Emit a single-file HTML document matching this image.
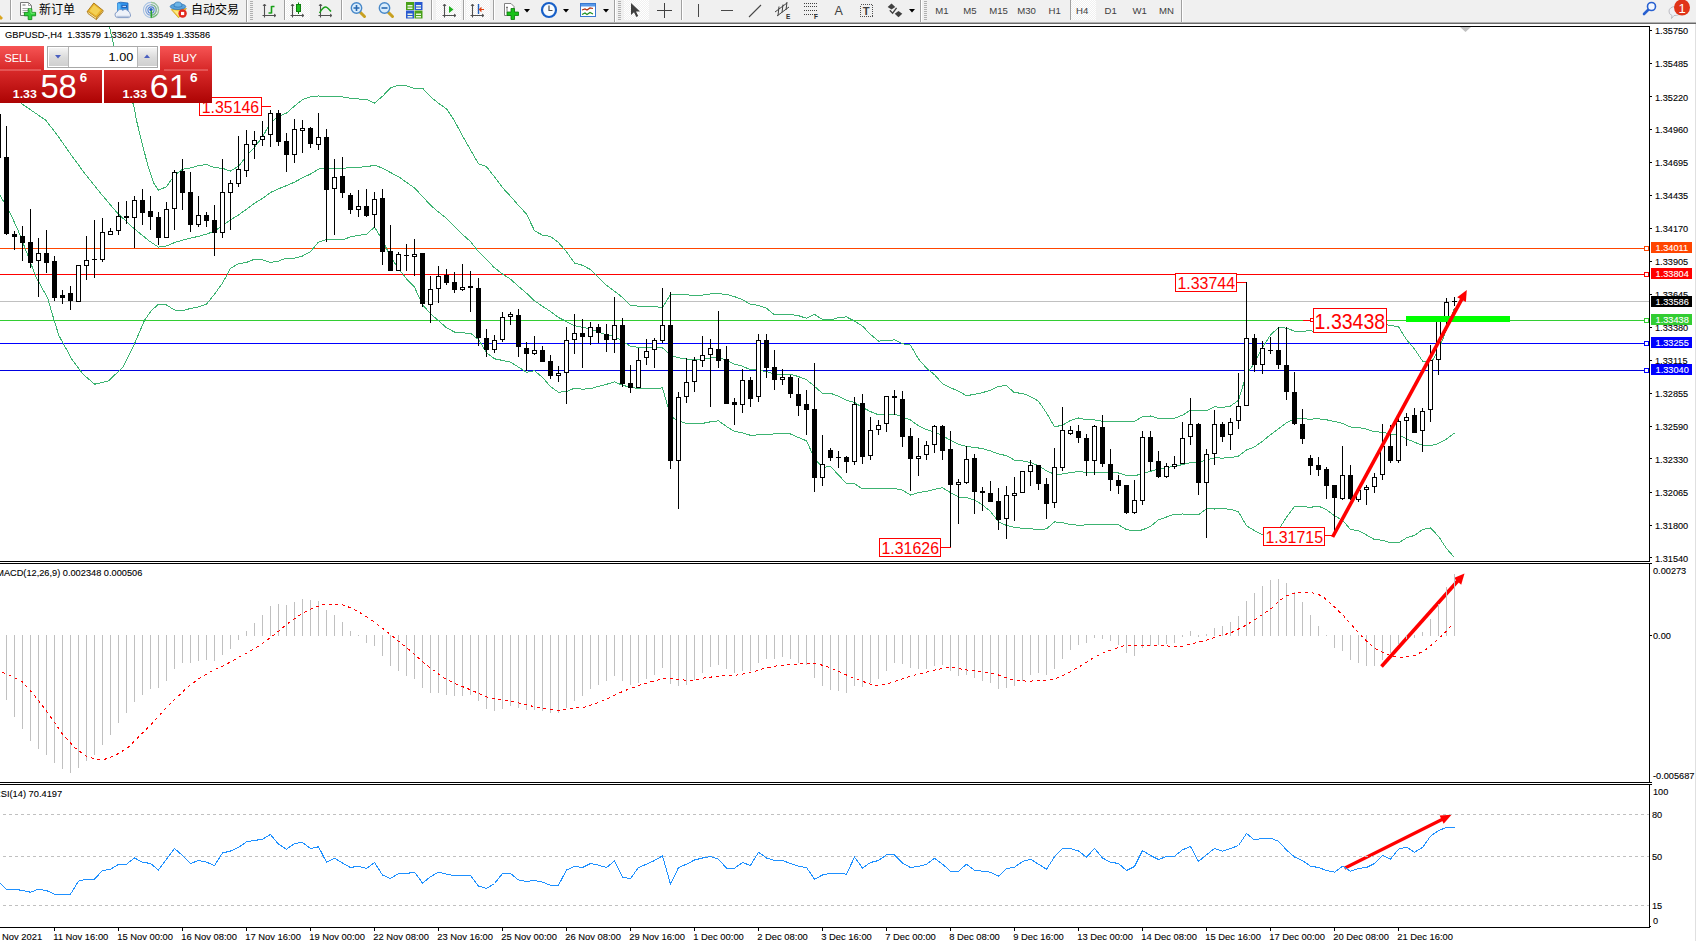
<!DOCTYPE html>
<html><head><meta charset="utf-8"><title>GBPUSD H4</title>
<style>
html,body{margin:0;padding:0;background:#fff;overflow:hidden}
svg{display:block}
text{font-family:"Liberation Sans","Noto Sans CJK SC",sans-serif}
</style></head><body>
<svg width="1696" height="941" viewBox="0 0 1696 941">
<rect x="0" y="24" width="1696" height="917" fill="#fff"/>
<g shape-rendering="crispEdges">
<rect x="0" y="248" width="1649" height="1" fill="#ff4500"/>
<rect x="0" y="274" width="1649" height="1" fill="#ff0000"/>
<rect x="0" y="301" width="1649" height="1" fill="#c0c0c0"/>
<rect x="0" y="320" width="1649" height="1" fill="#32cd32"/>
<rect x="0" y="343" width="1649" height="1" fill="#0000ff"/>
<rect x="0" y="370" width="1649" height="1" fill="#0000e0"/>
<clipPath id="cm"><rect x="0" y="27" width="1649" height="534"/></clipPath><g clip-path="url(#cm)">
<polyline points="108.6,22.0 111.4,36.0 115.0,50.0 122.0,78.0 133.7,105.2 136.4,120.0 141.4,140.2 147.5,164.4 153.5,182.6 158.5,190.1 166.5,186.7 174.5,175.2 182.5,169.3 190.5,167.9 198.5,165.7 206.5,164.4 214.5,167.7 222.5,168.3 230.5,171.1 238.5,166.3 246.5,156.0 254.5,147.2 262.5,136.9 270.5,122.6 278.5,116.4 286.5,113.1 294.5,106.0 302.5,99.6 310.5,96.7 318.5,96.0 326.5,96.7 334.5,96.9 342.5,96.9 350.5,98.3 358.5,99.0 366.5,99.5 374.5,103.1 382.5,96.3 390.5,88.0 398.5,85.1 406.5,85.7 414.5,88.7 422.5,88.1 430.5,96.7 438.5,103.3 446.5,108.9 454.5,120.8 462.5,135.9 470.5,149.8 478.5,163.8 486.5,166.7 494.5,176.9 502.5,187.6 510.5,196.3 518.5,205.4 526.5,214.0 534.5,230.7 542.5,235.2 550.5,236.4 558.5,242.6 566.5,251.8 574.5,263.0 582.5,265.3 590.5,269.6 598.5,277.5 606.5,285.3 614.5,291.2 622.5,297.5 630.5,305.4 638.5,306.2 646.5,306.2 654.5,306.3 662.5,307.9 670.5,294.3 678.5,294.3 686.5,294.8 694.5,295.5 702.5,295.1 710.5,294.0 718.5,293.7 726.5,294.4 734.5,296.6 742.5,299.6 750.5,304.3 758.5,305.4 766.5,308.3 774.5,314.8 782.5,314.6 790.5,314.5 798.5,315.7 806.5,318.3 814.5,314.4 822.5,319.5 830.5,319.9 838.5,317.7 846.5,316.9 854.5,321.1 862.5,326.1 870.5,334.4 878.5,341.1 886.5,340.4 894.5,339.9 902.5,343.8 910.5,345.1 918.5,359.0 926.5,368.0 934.5,374.7 942.5,383.7 950.5,387.8 958.5,391.1 966.5,395.7 974.5,394.3 982.5,392.6 990.5,390.3 998.5,386.3 1006.5,385.7 1014.5,392.7 1022.5,393.3 1030.5,396.5 1038.5,401.2 1046.5,412.9 1054.5,426.8 1062.5,425.2 1070.5,420.5 1078.5,418.0 1086.5,419.9 1094.5,419.9 1102.5,421.3 1110.5,421.2 1118.5,421.2 1126.5,421.5 1134.5,421.3 1142.5,416.6 1150.5,416.0 1158.5,418.4 1166.5,418.3 1174.5,418.2 1182.5,415.2 1190.5,410.1 1198.5,410.1 1206.5,411.0 1214.5,406.7 1222.5,407.6 1230.5,406.0 1238.5,400.3 1246.5,374.2 1254.5,363.1 1262.5,347.5 1270.5,335.0 1278.5,327.5 1286.5,328.1 1294.5,331.1 1302.5,331.1 1310.5,330.9 1318.5,331.4 1326.5,329.9 1334.5,327.1 1342.5,326.3 1350.5,324.6 1358.5,324.1 1366.5,323.1 1374.5,323.8 1382.5,324.1 1390.5,325.5 1398.5,326.8 1406.5,339.7 1414.5,348.9 1422.5,361.0 1430.5,363.5 1438.5,350.6 1446.5,329.5 1454.5,308.3" fill="none" stroke="#3cb371" stroke-width="1"/>
<polyline points="0.0,86.0 23.5,105.0 45.5,120.0 56.6,134.1 70.7,154.3 84.8,173.5 101.0,193.7 117.2,212.9 133.3,228.0 149.5,241.2 158.5,247.1 166.5,245.9 174.5,242.6 182.5,240.1 190.5,238.2 198.5,236.3 206.5,234.2 214.5,231.0 222.5,225.7 230.5,219.8 238.5,215.0 246.5,209.2 254.5,203.2 262.5,198.4 270.5,192.5 278.5,188.8 286.5,185.6 294.5,182.1 302.5,177.8 310.5,174.1 318.5,169.1 326.5,168.1 334.5,168.3 342.5,168.3 350.5,167.6 358.5,167.1 366.5,166.9 374.5,165.1 382.5,168.1 390.5,172.5 398.5,176.7 406.5,182.3 414.5,188.0 422.5,196.4 430.5,205.2 438.5,212.0 446.5,218.4 454.5,226.4 462.5,234.4 470.5,241.6 478.5,251.6 486.5,259.7 494.5,267.8 502.5,274.0 510.5,279.2 518.5,286.3 526.5,293.2 534.5,300.8 542.5,306.3 550.5,311.5 558.5,317.5 566.5,321.6 574.5,325.6 582.5,327.3 590.5,329.1 598.5,332.0 606.5,334.8 614.5,336.5 622.5,341.3 630.5,346.3 638.5,347.4 646.5,347.4 654.5,347.4 662.5,347.9 670.5,355.2 678.5,357.7 686.5,359.1 694.5,359.6 702.5,359.2 710.5,357.9 718.5,357.3 726.5,360.5 734.5,364.1 742.5,366.2 750.5,369.8 758.5,370.1 766.5,371.6 774.5,374.3 782.5,374.0 790.5,374.3 798.5,376.6 806.5,379.6 814.5,386.4 822.5,393.4 830.5,393.2 838.5,396.3 846.5,400.3 854.5,402.4 862.5,407.5 870.5,411.6 878.5,414.8 886.5,414.5 894.5,414.2 902.5,417.0 910.5,420.0 918.5,425.8 926.5,429.7 934.5,432.0 942.5,435.7 950.5,440.3 958.5,444.1 966.5,446.6 974.5,447.3 982.5,448.7 990.5,450.9 998.5,454.0 1006.5,455.6 1014.5,460.1 1022.5,460.8 1030.5,462.6 1038.5,465.5 1046.5,470.9 1054.5,474.3 1062.5,474.0 1070.5,472.5 1078.5,471.6 1086.5,472.4 1094.5,472.4 1102.5,473.0 1110.5,472.8 1118.5,473.0 1126.5,475.6 1134.5,476.0 1142.5,473.3 1150.5,471.3 1158.5,469.1 1166.5,467.7 1174.5,466.2 1182.5,464.6 1190.5,462.5 1198.5,462.5 1206.5,460.0 1214.5,457.8 1222.5,458.1 1230.5,457.7 1238.5,456.1 1246.5,450.0 1254.5,446.9 1262.5,441.2 1270.5,434.7 1278.5,428.7 1286.5,422.7 1294.5,418.9 1302.5,418.9 1310.5,419.1 1318.5,418.8 1326.5,419.8 1334.5,421.5 1342.5,423.3 1350.5,427.0 1358.5,427.4 1366.5,429.1 1374.5,431.7 1382.5,432.2 1390.5,434.1 1398.5,434.9 1406.5,438.8 1414.5,442.2 1422.5,445.3 1430.5,445.7 1438.5,443.5 1446.5,439.0 1454.5,432.9" fill="none" stroke="#3cb371" stroke-width="1"/>
<polyline points="0.0,195.4 8.8,210.4 18.0,230.0 25.0,248.0 36.0,277.0 47.7,298.2 54.2,320.6 59.0,335.8 72.3,360.0 83.1,374.4 94.7,384.2 108.4,381.0 122.9,367.2 133.7,345.5 144.6,320.2 151.0,311.0 158.5,304.1 166.5,305.0 174.5,310.0 182.5,310.9 190.5,308.4 198.5,306.9 206.5,304.0 214.5,294.2 222.5,283.1 230.5,268.4 238.5,263.7 246.5,262.4 254.5,259.2 262.5,259.9 270.5,262.4 278.5,261.1 286.5,258.1 294.5,258.2 302.5,256.0 310.5,251.6 318.5,242.1 326.5,239.4 334.5,239.8 342.5,239.8 350.5,236.9 358.5,235.3 366.5,234.3 374.5,227.1 382.5,240.0 390.5,257.0 398.5,268.4 406.5,278.9 414.5,287.2 422.5,304.7 430.5,313.7 438.5,320.6 446.5,327.8 454.5,332.0 462.5,332.9 470.5,333.3 478.5,339.5 486.5,352.6 494.5,358.8 502.5,360.4 510.5,362.1 518.5,367.1 526.5,372.3 534.5,370.8 542.5,377.3 550.5,386.6 558.5,392.3 566.5,391.5 574.5,388.2 582.5,389.2 590.5,388.6 598.5,386.4 606.5,384.3 614.5,381.9 622.5,385.2 630.5,387.3 638.5,388.6 646.5,388.6 654.5,388.6 662.5,387.9 670.5,416.1 678.5,421.1 686.5,423.4 694.5,423.8 702.5,423.4 710.5,421.8 718.5,420.8 726.5,426.5 734.5,431.5 742.5,432.8 750.5,435.3 758.5,434.9 766.5,434.8 774.5,433.8 782.5,433.4 790.5,434.0 798.5,437.5 806.5,440.8 814.5,458.4 822.5,467.3 830.5,466.6 838.5,474.9 846.5,483.6 854.5,483.7 862.5,489.0 870.5,488.9 878.5,488.6 886.5,488.5 894.5,488.4 902.5,490.2 910.5,495.0 918.5,492.6 926.5,491.4 934.5,489.3 942.5,487.7 950.5,492.7 958.5,497.0 966.5,497.5 974.5,500.2 982.5,504.8 990.5,511.5 998.5,521.7 1006.5,525.5 1014.5,527.4 1022.5,528.3 1030.5,528.6 1038.5,529.8 1046.5,528.8 1054.5,521.9 1062.5,522.7 1070.5,524.5 1078.5,525.3 1086.5,524.9 1094.5,524.9 1102.5,524.8 1110.5,524.3 1118.5,524.7 1126.5,529.7 1134.5,530.8 1142.5,529.9 1150.5,526.5 1158.5,519.8 1166.5,517.0 1174.5,514.2 1182.5,514.0 1190.5,514.9 1198.5,514.8 1206.5,508.9 1214.5,509.0 1222.5,508.7 1230.5,509.3 1238.5,511.9 1246.5,525.7 1254.5,530.7 1262.5,534.8 1270.5,534.5 1278.5,529.9 1286.5,517.3 1294.5,506.6 1302.5,506.7 1310.5,507.3 1318.5,506.1 1326.5,509.7 1334.5,515.8 1342.5,520.3 1350.5,529.4 1358.5,530.7 1366.5,535.0 1374.5,539.6 1382.5,540.2 1390.5,542.8 1398.5,542.9 1406.5,537.9 1414.5,535.4 1422.5,529.5 1430.5,528.0 1438.5,536.3 1446.5,548.5 1454.5,557.5" fill="none" stroke="#3cb371" stroke-width="1"/>
</g>
<rect x="0" y="114" width="1" height="44" fill="#000"/>
<rect x="6" y="126" width="1" height="109" fill="#000"/>
<rect x="4" y="157" width="5" height="77" fill="#000"/>
<rect x="14" y="231" width="1" height="19" fill="#000"/>
<rect x="12" y="234" width="5" height="3" fill="#000"/>
<rect x="22" y="226" width="1" height="35" fill="#000"/>
<rect x="20" y="236" width="5" height="7" fill="#000"/>
<rect x="30" y="209" width="1" height="59" fill="#000"/>
<rect x="28" y="242" width="5" height="21" fill="#000"/>
<rect x="38" y="238" width="1" height="59" fill="#000"/>
<rect x="36.5" y="253.5" width="4" height="7" fill="#fff" stroke="#000" stroke-width="1"/>
<rect x="46" y="230" width="1" height="43" fill="#000"/>
<rect x="44" y="253" width="5" height="10" fill="#000"/>
<rect x="54" y="256" width="1" height="45" fill="#000"/>
<rect x="52" y="261" width="5" height="37" fill="#000"/>
<rect x="62" y="290" width="1" height="14" fill="#000"/>
<rect x="60" y="295" width="5" height="3" fill="#000"/>
<rect x="70" y="286" width="1" height="24" fill="#000"/>
<rect x="68" y="293" width="5" height="8" fill="#000"/>
<rect x="78" y="265" width="1" height="37" fill="#000"/>
<rect x="76.5" y="265.5" width="4" height="36" fill="#fff" stroke="#000" stroke-width="1"/>
<rect x="86" y="236" width="1" height="44" fill="#000"/>
<rect x="84.5" y="260.5" width="4" height="5" fill="#fff" stroke="#000" stroke-width="1"/>
<rect x="94" y="220" width="1" height="58" fill="#000"/>
<rect x="92" y="259" width="5" height="1" fill="#000"/>
<rect x="102" y="218" width="1" height="44" fill="#000"/>
<rect x="100.5" y="232.5" width="4" height="27" fill="#fff" stroke="#000" stroke-width="1"/>
<rect x="110" y="228" width="1" height="7" fill="#000"/>
<rect x="108.5" y="231.5" width="4" height="3" fill="#fff" stroke="#000" stroke-width="1"/>
<rect x="118" y="202" width="1" height="33" fill="#000"/>
<rect x="116.5" y="216.5" width="4" height="14" fill="#fff" stroke="#000" stroke-width="1"/>
<rect x="126" y="201" width="1" height="23" fill="#000"/>
<rect x="124" y="216" width="5" height="2" fill="#000"/>
<rect x="134" y="196" width="1" height="52" fill="#000"/>
<rect x="132.5" y="200.5" width="4" height="17" fill="#fff" stroke="#000" stroke-width="1"/>
<rect x="142" y="189" width="1" height="36" fill="#000"/>
<rect x="140" y="200" width="5" height="13" fill="#000"/>
<rect x="150" y="196" width="1" height="34" fill="#000"/>
<rect x="148" y="211" width="5" height="6" fill="#000"/>
<rect x="158" y="212" width="1" height="33" fill="#000"/>
<rect x="156" y="217" width="5" height="21" fill="#000"/>
<rect x="166" y="202" width="1" height="36" fill="#000"/>
<rect x="164.5" y="209.5" width="4" height="28" fill="#fff" stroke="#000" stroke-width="1"/>
<rect x="174" y="170" width="1" height="60" fill="#000"/>
<rect x="172.5" y="172.5" width="4" height="36" fill="#fff" stroke="#000" stroke-width="1"/>
<rect x="182" y="159" width="1" height="51" fill="#000"/>
<rect x="180" y="171" width="5" height="22" fill="#000"/>
<rect x="190" y="172" width="1" height="60" fill="#000"/>
<rect x="188" y="192" width="5" height="33" fill="#000"/>
<rect x="198" y="196" width="1" height="31" fill="#000"/>
<rect x="196.5" y="215.5" width="4" height="9" fill="#fff" stroke="#000" stroke-width="1"/>
<rect x="206" y="212" width="1" height="15" fill="#000"/>
<rect x="204" y="215" width="5" height="6" fill="#000"/>
<rect x="214" y="205" width="1" height="51" fill="#000"/>
<rect x="212" y="220" width="5" height="13" fill="#000"/>
<rect x="222" y="159" width="1" height="79" fill="#000"/>
<rect x="220.5" y="192.5" width="4" height="40" fill="#fff" stroke="#000" stroke-width="1"/>
<rect x="230" y="180" width="1" height="50" fill="#000"/>
<rect x="228.5" y="183.5" width="4" height="9" fill="#fff" stroke="#000" stroke-width="1"/>
<rect x="238" y="136" width="1" height="51" fill="#000"/>
<rect x="236.5" y="169.5" width="4" height="14" fill="#fff" stroke="#000" stroke-width="1"/>
<rect x="246" y="130" width="1" height="47" fill="#000"/>
<rect x="244.5" y="144.5" width="4" height="26" fill="#fff" stroke="#000" stroke-width="1"/>
<rect x="254" y="131" width="1" height="28" fill="#000"/>
<rect x="252.5" y="140.5" width="4" height="4" fill="#fff" stroke="#000" stroke-width="1"/>
<rect x="262" y="121" width="1" height="25" fill="#000"/>
<rect x="260.5" y="136.5" width="4" height="3" fill="#fff" stroke="#000" stroke-width="1"/>
<rect x="270" y="110" width="1" height="37" fill="#000"/>
<rect x="268.5" y="113.5" width="4" height="21" fill="#fff" stroke="#000" stroke-width="1"/>
<rect x="278" y="110" width="1" height="36" fill="#000"/>
<rect x="276" y="113" width="5" height="29" fill="#000"/>
<rect x="286" y="133" width="1" height="39" fill="#000"/>
<rect x="284" y="141" width="5" height="14" fill="#000"/>
<rect x="294" y="119" width="1" height="44" fill="#000"/>
<rect x="292.5" y="129.5" width="4" height="25" fill="#fff" stroke="#000" stroke-width="1"/>
<rect x="302" y="120" width="1" height="33" fill="#000"/>
<rect x="300.5" y="128.5" width="4" height="2" fill="#fff" stroke="#000" stroke-width="1"/>
<rect x="310" y="127" width="1" height="21" fill="#000"/>
<rect x="308" y="128" width="5" height="16" fill="#000"/>
<rect x="318" y="113" width="1" height="37" fill="#000"/>
<rect x="316.5" y="137.5" width="4" height="7" fill="#fff" stroke="#000" stroke-width="1"/>
<rect x="326" y="129" width="1" height="113" fill="#000"/>
<rect x="324" y="137" width="5" height="53" fill="#000"/>
<rect x="334" y="159" width="1" height="76" fill="#000"/>
<rect x="332.5" y="177.5" width="4" height="11" fill="#fff" stroke="#000" stroke-width="1"/>
<rect x="342" y="157" width="1" height="41" fill="#000"/>
<rect x="340" y="176" width="5" height="17" fill="#000"/>
<rect x="350" y="193" width="1" height="21" fill="#000"/>
<rect x="348" y="195" width="5" height="15" fill="#000"/>
<rect x="358" y="190" width="1" height="27" fill="#000"/>
<rect x="356.5" y="206.5" width="4" height="3" fill="#fff" stroke="#000" stroke-width="1"/>
<rect x="366" y="189" width="1" height="28" fill="#000"/>
<rect x="364" y="206" width="5" height="10" fill="#000"/>
<rect x="374" y="192" width="1" height="36" fill="#000"/>
<rect x="372.5" y="199.5" width="4" height="15" fill="#fff" stroke="#000" stroke-width="1"/>
<rect x="382" y="189" width="1" height="76" fill="#000"/>
<rect x="380" y="198" width="5" height="54" fill="#000"/>
<rect x="390" y="225" width="1" height="46" fill="#000"/>
<rect x="388" y="251" width="5" height="20" fill="#000"/>
<rect x="398" y="252" width="1" height="19" fill="#000"/>
<rect x="396.5" y="254.5" width="4" height="16" fill="#fff" stroke="#000" stroke-width="1"/>
<rect x="406" y="244" width="1" height="27" fill="#000"/>
<rect x="404" y="255" width="5" height="1" fill="#000"/>
<rect x="414" y="239" width="1" height="37" fill="#000"/>
<rect x="412.5" y="254.5" width="4" height="2" fill="#fff" stroke="#000" stroke-width="1"/>
<rect x="422" y="253" width="1" height="54" fill="#000"/>
<rect x="420" y="253" width="5" height="51" fill="#000"/>
<rect x="430" y="276" width="1" height="47" fill="#000"/>
<rect x="428.5" y="289.5" width="4" height="15" fill="#fff" stroke="#000" stroke-width="1"/>
<rect x="438" y="266" width="1" height="37" fill="#000"/>
<rect x="436.5" y="276.5" width="4" height="12" fill="#fff" stroke="#000" stroke-width="1"/>
<rect x="446" y="269" width="1" height="16" fill="#000"/>
<rect x="444" y="275" width="5" height="8" fill="#000"/>
<rect x="454" y="272" width="1" height="21" fill="#000"/>
<rect x="452" y="282" width="5" height="8" fill="#000"/>
<rect x="462" y="264" width="1" height="27" fill="#000"/>
<rect x="460.5" y="287.5" width="4" height="2" fill="#fff" stroke="#000" stroke-width="1"/>
<rect x="470" y="271" width="1" height="41" fill="#000"/>
<rect x="468" y="286" width="5" height="2" fill="#000"/>
<rect x="478" y="278" width="1" height="68" fill="#000"/>
<rect x="476" y="288" width="5" height="50" fill="#000"/>
<rect x="486" y="329" width="1" height="28" fill="#000"/>
<rect x="484" y="338" width="5" height="12" fill="#000"/>
<rect x="494" y="335" width="1" height="18" fill="#000"/>
<rect x="492.5" y="340.5" width="4" height="9" fill="#fff" stroke="#000" stroke-width="1"/>
<rect x="502" y="312" width="1" height="30" fill="#000"/>
<rect x="500.5" y="317.5" width="4" height="22" fill="#fff" stroke="#000" stroke-width="1"/>
<rect x="510" y="312" width="1" height="13" fill="#000"/>
<rect x="508.5" y="314.5" width="4" height="2" fill="#fff" stroke="#000" stroke-width="1"/>
<rect x="518" y="309" width="1" height="48" fill="#000"/>
<rect x="516" y="315" width="5" height="32" fill="#000"/>
<rect x="526" y="342" width="1" height="29" fill="#000"/>
<rect x="524" y="348" width="5" height="6" fill="#000"/>
<rect x="534" y="336" width="1" height="19" fill="#000"/>
<rect x="532.5" y="350.5" width="4" height="3" fill="#fff" stroke="#000" stroke-width="1"/>
<rect x="542" y="346" width="1" height="16" fill="#000"/>
<rect x="540" y="350" width="5" height="12" fill="#000"/>
<rect x="550" y="355" width="1" height="24" fill="#000"/>
<rect x="548" y="361" width="5" height="15" fill="#000"/>
<rect x="558" y="366" width="1" height="16" fill="#000"/>
<rect x="556.5" y="373.5" width="4" height="2" fill="#fff" stroke="#000" stroke-width="1"/>
<rect x="566" y="327" width="1" height="77" fill="#000"/>
<rect x="564.5" y="340.5" width="4" height="32" fill="#fff" stroke="#000" stroke-width="1"/>
<rect x="574" y="314" width="1" height="40" fill="#000"/>
<rect x="572.5" y="333.5" width="4" height="6" fill="#fff" stroke="#000" stroke-width="1"/>
<rect x="582" y="319" width="1" height="49" fill="#000"/>
<rect x="580" y="333" width="5" height="4" fill="#000"/>
<rect x="590" y="322" width="1" height="23" fill="#000"/>
<rect x="588.5" y="327.5" width="4" height="9" fill="#fff" stroke="#000" stroke-width="1"/>
<rect x="598" y="324" width="1" height="19" fill="#000"/>
<rect x="596" y="327" width="5" height="6" fill="#000"/>
<rect x="606" y="324" width="1" height="28" fill="#000"/>
<rect x="604" y="334" width="5" height="6" fill="#000"/>
<rect x="614" y="297" width="1" height="56" fill="#000"/>
<rect x="612.5" y="325.5" width="4" height="14" fill="#fff" stroke="#000" stroke-width="1"/>
<rect x="622" y="318" width="1" height="69" fill="#000"/>
<rect x="620" y="325" width="5" height="59" fill="#000"/>
<rect x="630" y="365" width="1" height="28" fill="#000"/>
<rect x="628" y="383" width="5" height="5" fill="#000"/>
<rect x="638" y="348" width="1" height="40" fill="#000"/>
<rect x="636.5" y="360.5" width="4" height="27" fill="#fff" stroke="#000" stroke-width="1"/>
<rect x="646" y="339" width="1" height="26" fill="#000"/>
<rect x="644.5" y="351.5" width="4" height="6" fill="#fff" stroke="#000" stroke-width="1"/>
<rect x="654" y="338" width="1" height="30" fill="#000"/>
<rect x="652.5" y="340.5" width="4" height="9" fill="#fff" stroke="#000" stroke-width="1"/>
<rect x="662" y="288" width="1" height="55" fill="#000"/>
<rect x="660.5" y="325.5" width="4" height="15" fill="#fff" stroke="#000" stroke-width="1"/>
<rect x="670" y="292" width="1" height="177" fill="#000"/>
<rect x="668" y="325" width="5" height="136" fill="#000"/>
<rect x="678" y="392" width="1" height="117" fill="#000"/>
<rect x="676.5" y="397.5" width="4" height="63" fill="#fff" stroke="#000" stroke-width="1"/>
<rect x="686" y="358" width="1" height="45" fill="#000"/>
<rect x="684.5" y="382.5" width="4" height="14" fill="#fff" stroke="#000" stroke-width="1"/>
<rect x="694" y="357" width="1" height="35" fill="#000"/>
<rect x="692.5" y="360.5" width="4" height="21" fill="#fff" stroke="#000" stroke-width="1"/>
<rect x="702" y="336" width="1" height="31" fill="#000"/>
<rect x="700.5" y="355.5" width="4" height="5" fill="#fff" stroke="#000" stroke-width="1"/>
<rect x="710" y="339" width="1" height="68" fill="#000"/>
<rect x="708.5" y="348.5" width="4" height="6" fill="#fff" stroke="#000" stroke-width="1"/>
<rect x="718" y="311" width="1" height="57" fill="#000"/>
<rect x="716" y="349" width="5" height="12" fill="#000"/>
<rect x="726" y="346" width="1" height="58" fill="#000"/>
<rect x="724" y="359" width="5" height="45" fill="#000"/>
<rect x="734" y="398" width="1" height="27" fill="#000"/>
<rect x="732" y="402" width="5" height="3" fill="#000"/>
<rect x="742" y="369" width="1" height="44" fill="#000"/>
<rect x="740.5" y="380.5" width="4" height="24" fill="#fff" stroke="#000" stroke-width="1"/>
<rect x="750" y="377" width="1" height="30" fill="#000"/>
<rect x="748" y="380" width="5" height="19" fill="#000"/>
<rect x="758" y="334" width="1" height="68" fill="#000"/>
<rect x="756.5" y="340.5" width="4" height="56" fill="#fff" stroke="#000" stroke-width="1"/>
<rect x="766" y="334" width="1" height="44" fill="#000"/>
<rect x="764" y="340" width="5" height="28" fill="#000"/>
<rect x="774" y="350" width="1" height="40" fill="#000"/>
<rect x="772" y="367" width="5" height="13" fill="#000"/>
<rect x="782" y="369" width="1" height="16" fill="#000"/>
<rect x="780.5" y="377.5" width="4" height="2" fill="#fff" stroke="#000" stroke-width="1"/>
<rect x="790" y="375" width="1" height="23" fill="#000"/>
<rect x="788" y="377" width="5" height="17" fill="#000"/>
<rect x="798" y="378" width="1" height="38" fill="#000"/>
<rect x="796" y="394" width="5" height="12" fill="#000"/>
<rect x="806" y="390" width="1" height="45" fill="#000"/>
<rect x="804" y="404" width="5" height="6" fill="#000"/>
<rect x="814" y="363" width="1" height="129" fill="#000"/>
<rect x="812" y="409" width="5" height="69" fill="#000"/>
<rect x="822" y="435" width="1" height="51" fill="#000"/>
<rect x="820.5" y="464.5" width="4" height="13" fill="#fff" stroke="#000" stroke-width="1"/>
<rect x="830" y="448" width="1" height="13" fill="#000"/>
<rect x="828" y="450" width="5" height="8" fill="#000"/>
<rect x="838" y="451" width="1" height="17" fill="#000"/>
<rect x="836" y="457" width="5" height="1" fill="#000"/>
<rect x="846" y="456" width="1" height="17" fill="#000"/>
<rect x="844" y="457" width="5" height="5" fill="#000"/>
<rect x="854" y="397" width="1" height="68" fill="#000"/>
<rect x="852.5" y="404.5" width="4" height="57" fill="#fff" stroke="#000" stroke-width="1"/>
<rect x="862" y="394" width="1" height="70" fill="#000"/>
<rect x="860" y="403" width="5" height="54" fill="#000"/>
<rect x="870" y="417" width="1" height="43" fill="#000"/>
<rect x="868.5" y="430.5" width="4" height="25" fill="#fff" stroke="#000" stroke-width="1"/>
<rect x="878" y="420" width="1" height="15" fill="#000"/>
<rect x="876.5" y="425.5" width="4" height="4" fill="#fff" stroke="#000" stroke-width="1"/>
<rect x="886" y="396" width="1" height="36" fill="#000"/>
<rect x="884.5" y="396.5" width="4" height="27" fill="#fff" stroke="#000" stroke-width="1"/>
<rect x="894" y="390" width="1" height="25" fill="#000"/>
<rect x="892" y="396" width="5" height="2" fill="#000"/>
<rect x="902" y="391" width="1" height="56" fill="#000"/>
<rect x="900" y="399" width="5" height="38" fill="#000"/>
<rect x="910" y="428" width="1" height="63" fill="#000"/>
<rect x="908" y="436" width="5" height="23" fill="#000"/>
<rect x="918" y="438" width="1" height="38" fill="#000"/>
<rect x="916.5" y="456.5" width="4" height="2" fill="#fff" stroke="#000" stroke-width="1"/>
<rect x="926" y="441" width="1" height="19" fill="#000"/>
<rect x="924.5" y="445.5" width="4" height="9" fill="#fff" stroke="#000" stroke-width="1"/>
<rect x="934" y="425" width="1" height="28" fill="#000"/>
<rect x="932.5" y="426.5" width="4" height="18" fill="#fff" stroke="#000" stroke-width="1"/>
<rect x="942" y="425" width="1" height="35" fill="#000"/>
<rect x="940" y="426" width="5" height="25" fill="#000"/>
<rect x="950" y="431" width="1" height="117" fill="#000"/>
<rect x="948" y="449" width="5" height="36" fill="#000"/>
<rect x="958" y="479" width="1" height="45" fill="#000"/>
<rect x="956.5" y="482.5" width="4" height="2" fill="#fff" stroke="#000" stroke-width="1"/>
<rect x="966" y="446" width="1" height="38" fill="#000"/>
<rect x="964.5" y="459.5" width="4" height="23" fill="#fff" stroke="#000" stroke-width="1"/>
<rect x="974" y="454" width="1" height="60" fill="#000"/>
<rect x="972" y="458" width="5" height="34" fill="#000"/>
<rect x="982" y="487" width="1" height="24" fill="#000"/>
<rect x="980" y="491" width="5" height="2" fill="#000"/>
<rect x="990" y="481" width="1" height="21" fill="#000"/>
<rect x="988" y="493" width="5" height="9" fill="#000"/>
<rect x="998" y="488" width="1" height="42" fill="#000"/>
<rect x="996" y="501" width="5" height="19" fill="#000"/>
<rect x="1006" y="486" width="1" height="53" fill="#000"/>
<rect x="1004.5" y="495.5" width="4" height="23" fill="#fff" stroke="#000" stroke-width="1"/>
<rect x="1014" y="477" width="1" height="44" fill="#000"/>
<rect x="1012.5" y="493.5" width="4" height="2" fill="#fff" stroke="#000" stroke-width="1"/>
<rect x="1022" y="471" width="1" height="22" fill="#000"/>
<rect x="1020.5" y="471.5" width="4" height="21" fill="#fff" stroke="#000" stroke-width="1"/>
<rect x="1030" y="460" width="1" height="26" fill="#000"/>
<rect x="1028.5" y="465.5" width="4" height="6" fill="#fff" stroke="#000" stroke-width="1"/>
<rect x="1038" y="465" width="1" height="25" fill="#000"/>
<rect x="1036" y="465" width="5" height="19" fill="#000"/>
<rect x="1046" y="478" width="1" height="41" fill="#000"/>
<rect x="1044" y="484" width="5" height="20" fill="#000"/>
<rect x="1054" y="448" width="1" height="60" fill="#000"/>
<rect x="1052.5" y="467.5" width="4" height="35" fill="#fff" stroke="#000" stroke-width="1"/>
<rect x="1062" y="407" width="1" height="64" fill="#000"/>
<rect x="1060.5" y="430.5" width="4" height="37" fill="#fff" stroke="#000" stroke-width="1"/>
<rect x="1070" y="426" width="1" height="9" fill="#000"/>
<rect x="1068.5" y="430.5" width="4" height="3" fill="#fff" stroke="#000" stroke-width="1"/>
<rect x="1078" y="425" width="1" height="18" fill="#000"/>
<rect x="1076" y="431" width="5" height="7" fill="#000"/>
<rect x="1086" y="434" width="1" height="42" fill="#000"/>
<rect x="1084" y="438" width="5" height="23" fill="#000"/>
<rect x="1094" y="425" width="1" height="50" fill="#000"/>
<rect x="1092.5" y="426.5" width="4" height="34" fill="#fff" stroke="#000" stroke-width="1"/>
<rect x="1102" y="415" width="1" height="52" fill="#000"/>
<rect x="1100" y="427" width="5" height="37" fill="#000"/>
<rect x="1110" y="449" width="1" height="42" fill="#000"/>
<rect x="1108" y="464" width="5" height="16" fill="#000"/>
<rect x="1118" y="475" width="1" height="19" fill="#000"/>
<rect x="1116" y="480" width="5" height="6" fill="#000"/>
<rect x="1126" y="485" width="1" height="29" fill="#000"/>
<rect x="1124" y="485" width="5" height="28" fill="#000"/>
<rect x="1134" y="480" width="1" height="34" fill="#000"/>
<rect x="1132.5" y="500.5" width="4" height="12" fill="#fff" stroke="#000" stroke-width="1"/>
<rect x="1142" y="431" width="1" height="74" fill="#000"/>
<rect x="1140.5" y="437.5" width="4" height="63" fill="#fff" stroke="#000" stroke-width="1"/>
<rect x="1150" y="431" width="1" height="40" fill="#000"/>
<rect x="1148" y="437" width="5" height="25" fill="#000"/>
<rect x="1158" y="451" width="1" height="27" fill="#000"/>
<rect x="1156" y="461" width="5" height="16" fill="#000"/>
<rect x="1166" y="463" width="1" height="15" fill="#000"/>
<rect x="1164.5" y="466.5" width="4" height="10" fill="#fff" stroke="#000" stroke-width="1"/>
<rect x="1174" y="456" width="1" height="13" fill="#000"/>
<rect x="1172.5" y="464.5" width="4" height="2" fill="#fff" stroke="#000" stroke-width="1"/>
<rect x="1182" y="422" width="1" height="42" fill="#000"/>
<rect x="1180.5" y="438.5" width="4" height="25" fill="#fff" stroke="#000" stroke-width="1"/>
<rect x="1190" y="398" width="1" height="47" fill="#000"/>
<rect x="1188.5" y="424.5" width="4" height="12" fill="#fff" stroke="#000" stroke-width="1"/>
<rect x="1198" y="423" width="1" height="72" fill="#000"/>
<rect x="1196" y="424" width="5" height="59" fill="#000"/>
<rect x="1206" y="449" width="1" height="89" fill="#000"/>
<rect x="1204.5" y="454.5" width="4" height="28" fill="#fff" stroke="#000" stroke-width="1"/>
<rect x="1214" y="410" width="1" height="55" fill="#000"/>
<rect x="1212.5" y="424.5" width="4" height="29" fill="#fff" stroke="#000" stroke-width="1"/>
<rect x="1222" y="422" width="1" height="20" fill="#000"/>
<rect x="1220" y="424" width="5" height="13" fill="#000"/>
<rect x="1230" y="418" width="1" height="32" fill="#000"/>
<rect x="1228.5" y="422.5" width="4" height="12" fill="#fff" stroke="#000" stroke-width="1"/>
<rect x="1238" y="373" width="1" height="56" fill="#000"/>
<rect x="1236.5" y="406.5" width="4" height="14" fill="#fff" stroke="#000" stroke-width="1"/>
<rect x="1246" y="282" width="1" height="124" fill="#000"/>
<rect x="1244.5" y="338.5" width="4" height="67" fill="#fff" stroke="#000" stroke-width="1"/>
<rect x="1254" y="334" width="1" height="38" fill="#000"/>
<rect x="1252" y="338" width="5" height="27" fill="#000"/>
<rect x="1262" y="341" width="1" height="33" fill="#000"/>
<rect x="1260.5" y="348.5" width="4" height="16" fill="#fff" stroke="#000" stroke-width="1"/>
<rect x="1270" y="337" width="1" height="17" fill="#000"/>
<rect x="1268" y="350" width="5" height="1" fill="#000"/>
<rect x="1278" y="327" width="1" height="42" fill="#000"/>
<rect x="1276" y="350" width="5" height="15" fill="#000"/>
<rect x="1286" y="327" width="1" height="73" fill="#000"/>
<rect x="1284" y="365" width="5" height="27" fill="#000"/>
<rect x="1294" y="372" width="1" height="53" fill="#000"/>
<rect x="1292" y="392" width="5" height="32" fill="#000"/>
<rect x="1302" y="409" width="1" height="35" fill="#000"/>
<rect x="1300" y="424" width="5" height="15" fill="#000"/>
<rect x="1310" y="455" width="1" height="20" fill="#000"/>
<rect x="1308" y="458" width="5" height="8" fill="#000"/>
<rect x="1318" y="457" width="1" height="19" fill="#000"/>
<rect x="1316" y="465" width="5" height="5" fill="#000"/>
<rect x="1326" y="467" width="1" height="32" fill="#000"/>
<rect x="1324" y="469" width="5" height="17" fill="#000"/>
<rect x="1334" y="485" width="1" height="50" fill="#000"/>
<rect x="1332" y="485" width="5" height="13" fill="#000"/>
<rect x="1342" y="446" width="1" height="54" fill="#000"/>
<rect x="1340.5" y="475.5" width="4" height="23" fill="#fff" stroke="#000" stroke-width="1"/>
<rect x="1350" y="465" width="1" height="35" fill="#000"/>
<rect x="1348" y="475" width="5" height="24" fill="#000"/>
<rect x="1358" y="490" width="1" height="12" fill="#000"/>
<rect x="1356.5" y="490.5" width="4" height="9" fill="#fff" stroke="#000" stroke-width="1"/>
<rect x="1366" y="485" width="1" height="20" fill="#000"/>
<rect x="1364.5" y="487.5" width="4" height="2" fill="#fff" stroke="#000" stroke-width="1"/>
<rect x="1374" y="473" width="1" height="20" fill="#000"/>
<rect x="1372.5" y="477.5" width="4" height="9" fill="#fff" stroke="#000" stroke-width="1"/>
<rect x="1382" y="424" width="1" height="56" fill="#000"/>
<rect x="1380.5" y="446.5" width="4" height="28" fill="#fff" stroke="#000" stroke-width="1"/>
<rect x="1390" y="425" width="1" height="38" fill="#000"/>
<rect x="1388" y="446" width="5" height="15" fill="#000"/>
<rect x="1398" y="418" width="1" height="45" fill="#000"/>
<rect x="1396.5" y="421.5" width="4" height="39" fill="#fff" stroke="#000" stroke-width="1"/>
<rect x="1406" y="413" width="1" height="33" fill="#000"/>
<rect x="1404.5" y="417.5" width="4" height="3" fill="#fff" stroke="#000" stroke-width="1"/>
<rect x="1414" y="408" width="1" height="25" fill="#000"/>
<rect x="1412" y="415" width="5" height="18" fill="#000"/>
<rect x="1422" y="408" width="1" height="44" fill="#000"/>
<rect x="1420.5" y="411.5" width="4" height="19" fill="#fff" stroke="#000" stroke-width="1"/>
<rect x="1430" y="345" width="1" height="77" fill="#000"/>
<rect x="1428.5" y="360.5" width="4" height="49" fill="#fff" stroke="#000" stroke-width="1"/>
<rect x="1438" y="320" width="1" height="55" fill="#000"/>
<rect x="1436.5" y="320.5" width="4" height="39" fill="#fff" stroke="#000" stroke-width="1"/>
<rect x="1446" y="298" width="1" height="28" fill="#000"/>
<rect x="1444.5" y="302.5" width="4" height="17" fill="#fff" stroke="#000" stroke-width="1"/>
<rect x="1454" y="297" width="1" height="9" fill="#000"/>
<rect x="1452" y="301" width="5" height="1" fill="#000"/>
</g>
<rect x="1406" y="316" width="104" height="6" fill="#00ff00"/>
<rect x="1644.5" y="246.5" width="4" height="4" fill="#fff" stroke="#ff4500" stroke-width="1" shape-rendering="crispEdges"/>
<rect x="1644.5" y="272.5" width="4" height="4" fill="#fff" stroke="#ff0000" stroke-width="1" shape-rendering="crispEdges"/>
<rect x="1644.5" y="318.5" width="4" height="4" fill="#fff" stroke="#32cd32" stroke-width="1" shape-rendering="crispEdges"/>
<rect x="1644.5" y="341.5" width="4" height="4" fill="#fff" stroke="#0000ff" stroke-width="1" shape-rendering="crispEdges"/>
<rect x="1644.5" y="368.5" width="4" height="4" fill="#fff" stroke="#0000ff" stroke-width="1" shape-rendering="crispEdges"/>
<rect x="199.5" y="97.5" width="62" height="18" fill="#fff" stroke="#ff0000" stroke-width="1" shape-rendering="crispEdges"/>
<text x="201.7" y="113" font-size="16.4" fill="#ff0000" text-anchor="start" font-weight="normal" textLength="57.5" lengthAdjust="spacingAndGlyphs">1.35146</text>
<rect x="262" y="106" width="9" height="1" fill="#ff0000"/>
<rect x="1175.5" y="273.5" width="61" height="18" fill="#fff" stroke="#ff0000" stroke-width="1" shape-rendering="crispEdges"/>
<text x="1177.4" y="289" font-size="16.4" fill="#ff0000" text-anchor="start" font-weight="normal" textLength="57.6" lengthAdjust="spacingAndGlyphs">1.33744</text>
<rect x="1237" y="282" width="9" height="1" fill="#ff0000"/>
<rect x="879.5" y="538.5" width="61" height="18" fill="#fff" stroke="#ff0000" stroke-width="1" shape-rendering="crispEdges"/>
<text x="881.5" y="554" font-size="16.4" fill="#ff0000" text-anchor="start" font-weight="normal" textLength="57.5" lengthAdjust="spacingAndGlyphs">1.31626</text>
<rect x="941" y="547" width="10" height="1" fill="#ff0000"/>
<rect x="1263.5" y="527.5" width="61" height="18" fill="#fff" stroke="#ff0000" stroke-width="1" shape-rendering="crispEdges"/>
<text x="1265.4" y="543" font-size="16.4" fill="#ff0000" text-anchor="start" font-weight="normal" textLength="57.6" lengthAdjust="spacingAndGlyphs">1.31715</text>
<rect x="1325" y="535" width="9" height="1" fill="#ff0000"/>
<rect x="1313.5" y="308.5" width="73" height="24" fill="#fff" stroke="#ff0000" stroke-width="1" shape-rendering="crispEdges"/>
<text x="1314.6" y="329.2" font-size="22.4" fill="#ff0000" text-anchor="start" font-weight="normal" textLength="70.6" lengthAdjust="spacingAndGlyphs">1.33438</text>
<rect x="1303" y="320" width="10" height="1" fill="#ff0000"/>
<rect x="1310.5" y="318.5" width="3" height="3" fill="#fff" stroke="#ff0000" shape-rendering="crispEdges"/>
<line x1="1332.6" y1="537.0" x2="1462.5" y2="297.9" stroke="#ff0000" stroke-width="3.6"/>
<polygon points="1466.8,290.0 1465.9,302.1 1457.2,297.3" fill="#ff0000"/>
<line x1="1381.5" y1="666.5" x2="1458.8" y2="579.8" stroke="#ff0000" stroke-width="3.6"/>
<polygon points="1464.5,573.5 1461.2,584.7 1453.8,578.0" fill="#ff0000"/>
<line x1="1344.5" y1="868.3" x2="1443.5" y2="818.8" stroke="#ff0000" stroke-width="3.2"/>
<polygon points="1451.5,814.8 1443.7,823.8 1439.6,815.6" fill="#ff0000"/>
<rect x="0" y="26" width="1650" height="1" fill="#000"/>
<rect x="1649" y="26" width="1" height="536" fill="#000"/>
<rect x="0" y="561" width="1650" height="1" fill="#000"/>
<rect x="0" y="563" width="1650" height="1" fill="#000"/>
<rect x="1649" y="563" width="1" height="220" fill="#000"/>
<rect x="0" y="782" width="1650" height="1" fill="#000"/>
<g shape-rendering="crispEdges">
<rect x="6" y="635" width="1" height="65" fill="#c0c0c0"/>
<rect x="14" y="635" width="1" height="82" fill="#c0c0c0"/>
<rect x="22" y="635" width="1" height="94" fill="#c0c0c0"/>
<rect x="30" y="635" width="1" height="106" fill="#c0c0c0"/>
<rect x="38" y="635" width="1" height="114" fill="#c0c0c0"/>
<rect x="46" y="635" width="1" height="120" fill="#c0c0c0"/>
<rect x="54" y="635" width="1" height="128" fill="#c0c0c0"/>
<rect x="62" y="635" width="1" height="134" fill="#c0c0c0"/>
<rect x="70" y="635" width="1" height="138" fill="#c0c0c0"/>
<rect x="78" y="635" width="1" height="133" fill="#c0c0c0"/>
<rect x="86" y="635" width="1" height="126" fill="#c0c0c0"/>
<rect x="94" y="635" width="1" height="120" fill="#c0c0c0"/>
<rect x="102" y="635" width="1" height="110" fill="#c0c0c0"/>
<rect x="110" y="635" width="1" height="100" fill="#c0c0c0"/>
<rect x="118" y="635" width="1" height="88" fill="#c0c0c0"/>
<rect x="126" y="635" width="1" height="78" fill="#c0c0c0"/>
<rect x="134" y="635" width="1" height="67" fill="#c0c0c0"/>
<rect x="142" y="635" width="1" height="60" fill="#c0c0c0"/>
<rect x="150" y="635" width="1" height="54" fill="#c0c0c0"/>
<rect x="158" y="635" width="1" height="53" fill="#c0c0c0"/>
<rect x="166" y="635" width="1" height="46" fill="#c0c0c0"/>
<rect x="174" y="635" width="1" height="34" fill="#c0c0c0"/>
<rect x="182" y="635" width="1" height="28" fill="#c0c0c0"/>
<rect x="190" y="635" width="1" height="28" fill="#c0c0c0"/>
<rect x="198" y="635" width="1" height="26" fill="#c0c0c0"/>
<rect x="206" y="635" width="1" height="25" fill="#c0c0c0"/>
<rect x="214" y="635" width="1" height="26" fill="#c0c0c0"/>
<rect x="222" y="635" width="1" height="20" fill="#c0c0c0"/>
<rect x="230" y="635" width="1" height="14" fill="#c0c0c0"/>
<rect x="238" y="635" width="1" height="5" fill="#c0c0c0"/>
<rect x="246" y="631" width="1" height="5" fill="#c0c0c0"/>
<rect x="254" y="623" width="1" height="13" fill="#c0c0c0"/>
<rect x="262" y="615" width="1" height="21" fill="#c0c0c0"/>
<rect x="270" y="606" width="1" height="30" fill="#c0c0c0"/>
<rect x="278" y="604" width="1" height="32" fill="#c0c0c0"/>
<rect x="286" y="605" width="1" height="31" fill="#c0c0c0"/>
<rect x="294" y="602" width="1" height="34" fill="#c0c0c0"/>
<rect x="302" y="599" width="1" height="37" fill="#c0c0c0"/>
<rect x="310" y="600" width="1" height="36" fill="#c0c0c0"/>
<rect x="318" y="601" width="1" height="35" fill="#c0c0c0"/>
<rect x="326" y="610" width="1" height="26" fill="#c0c0c0"/>
<rect x="334" y="615" width="1" height="21" fill="#c0c0c0"/>
<rect x="342" y="622" width="1" height="14" fill="#c0c0c0"/>
<rect x="350" y="631" width="1" height="5" fill="#c0c0c0"/>
<rect x="358" y="635" width="1" height="1" fill="#c0c0c0"/>
<rect x="366" y="635" width="1" height="8" fill="#c0c0c0"/>
<rect x="374" y="635" width="1" height="11" fill="#c0c0c0"/>
<rect x="382" y="635" width="1" height="21" fill="#c0c0c0"/>
<rect x="390" y="635" width="1" height="31" fill="#c0c0c0"/>
<rect x="398" y="635" width="1" height="36" fill="#c0c0c0"/>
<rect x="406" y="635" width="1" height="41" fill="#c0c0c0"/>
<rect x="414" y="635" width="1" height="44" fill="#c0c0c0"/>
<rect x="422" y="635" width="1" height="53" fill="#c0c0c0"/>
<rect x="430" y="635" width="1" height="58" fill="#c0c0c0"/>
<rect x="438" y="635" width="1" height="58" fill="#c0c0c0"/>
<rect x="446" y="635" width="1" height="60" fill="#c0c0c0"/>
<rect x="454" y="635" width="1" height="61" fill="#c0c0c0"/>
<rect x="462" y="635" width="1" height="61" fill="#c0c0c0"/>
<rect x="470" y="635" width="1" height="60" fill="#c0c0c0"/>
<rect x="478" y="635" width="1" height="66" fill="#c0c0c0"/>
<rect x="486" y="635" width="1" height="74" fill="#c0c0c0"/>
<rect x="494" y="635" width="1" height="76" fill="#c0c0c0"/>
<rect x="502" y="635" width="1" height="74" fill="#c0c0c0"/>
<rect x="510" y="635" width="1" height="71" fill="#c0c0c0"/>
<rect x="518" y="635" width="1" height="73" fill="#c0c0c0"/>
<rect x="526" y="635" width="1" height="75" fill="#c0c0c0"/>
<rect x="534" y="635" width="1" height="75" fill="#c0c0c0"/>
<rect x="542" y="635" width="1" height="76" fill="#c0c0c0"/>
<rect x="550" y="635" width="1" height="78" fill="#c0c0c0"/>
<rect x="558" y="635" width="1" height="78" fill="#c0c0c0"/>
<rect x="566" y="635" width="1" height="73" fill="#c0c0c0"/>
<rect x="574" y="635" width="1" height="66" fill="#c0c0c0"/>
<rect x="582" y="635" width="1" height="61" fill="#c0c0c0"/>
<rect x="590" y="635" width="1" height="54" fill="#c0c0c0"/>
<rect x="598" y="635" width="1" height="50" fill="#c0c0c0"/>
<rect x="606" y="635" width="1" height="46" fill="#c0c0c0"/>
<rect x="614" y="635" width="1" height="41" fill="#c0c0c0"/>
<rect x="622" y="635" width="1" height="46" fill="#c0c0c0"/>
<rect x="630" y="635" width="1" height="50" fill="#c0c0c0"/>
<rect x="638" y="635" width="1" height="48" fill="#c0c0c0"/>
<rect x="646" y="635" width="1" height="44" fill="#c0c0c0"/>
<rect x="654" y="635" width="1" height="40" fill="#c0c0c0"/>
<rect x="662" y="635" width="1" height="33" fill="#c0c0c0"/>
<rect x="670" y="635" width="1" height="49" fill="#c0c0c0"/>
<rect x="678" y="635" width="1" height="51" fill="#c0c0c0"/>
<rect x="686" y="635" width="1" height="50" fill="#c0c0c0"/>
<rect x="694" y="635" width="1" height="45" fill="#c0c0c0"/>
<rect x="702" y="635" width="1" height="38" fill="#c0c0c0"/>
<rect x="710" y="635" width="1" height="32" fill="#c0c0c0"/>
<rect x="718" y="635" width="1" height="30" fill="#c0c0c0"/>
<rect x="726" y="635" width="1" height="34" fill="#c0c0c0"/>
<rect x="734" y="635" width="1" height="38" fill="#c0c0c0"/>
<rect x="742" y="635" width="1" height="36" fill="#c0c0c0"/>
<rect x="750" y="635" width="1" height="36" fill="#c0c0c0"/>
<rect x="758" y="635" width="1" height="28" fill="#c0c0c0"/>
<rect x="766" y="635" width="1" height="24" fill="#c0c0c0"/>
<rect x="774" y="635" width="1" height="24" fill="#c0c0c0"/>
<rect x="782" y="635" width="1" height="22" fill="#c0c0c0"/>
<rect x="790" y="635" width="1" height="24" fill="#c0c0c0"/>
<rect x="798" y="635" width="1" height="28" fill="#c0c0c0"/>
<rect x="806" y="635" width="1" height="30" fill="#c0c0c0"/>
<rect x="814" y="635" width="1" height="43" fill="#c0c0c0"/>
<rect x="822" y="635" width="1" height="51" fill="#c0c0c0"/>
<rect x="830" y="635" width="1" height="55" fill="#c0c0c0"/>
<rect x="838" y="635" width="1" height="56" fill="#c0c0c0"/>
<rect x="846" y="635" width="1" height="58" fill="#c0c0c0"/>
<rect x="854" y="635" width="1" height="51" fill="#c0c0c0"/>
<rect x="862" y="635" width="1" height="52" fill="#c0c0c0"/>
<rect x="870" y="635" width="1" height="48" fill="#c0c0c0"/>
<rect x="878" y="635" width="1" height="44" fill="#c0c0c0"/>
<rect x="886" y="635" width="1" height="36" fill="#c0c0c0"/>
<rect x="894" y="635" width="1" height="28" fill="#c0c0c0"/>
<rect x="902" y="635" width="1" height="29" fill="#c0c0c0"/>
<rect x="910" y="635" width="1" height="33" fill="#c0c0c0"/>
<rect x="918" y="635" width="1" height="34" fill="#c0c0c0"/>
<rect x="926" y="635" width="1" height="34" fill="#c0c0c0"/>
<rect x="934" y="635" width="1" height="31" fill="#c0c0c0"/>
<rect x="942" y="635" width="1" height="30" fill="#c0c0c0"/>
<rect x="950" y="635" width="1" height="36" fill="#c0c0c0"/>
<rect x="958" y="635" width="1" height="41" fill="#c0c0c0"/>
<rect x="966" y="635" width="1" height="40" fill="#c0c0c0"/>
<rect x="974" y="635" width="1" height="43" fill="#c0c0c0"/>
<rect x="982" y="635" width="1" height="46" fill="#c0c0c0"/>
<rect x="990" y="635" width="1" height="48" fill="#c0c0c0"/>
<rect x="998" y="635" width="1" height="54" fill="#c0c0c0"/>
<rect x="1006" y="635" width="1" height="53" fill="#c0c0c0"/>
<rect x="1014" y="635" width="1" height="51" fill="#c0c0c0"/>
<rect x="1022" y="635" width="1" height="46" fill="#c0c0c0"/>
<rect x="1030" y="635" width="1" height="40" fill="#c0c0c0"/>
<rect x="1038" y="635" width="1" height="38" fill="#c0c0c0"/>
<rect x="1046" y="635" width="1" height="40" fill="#c0c0c0"/>
<rect x="1054" y="635" width="1" height="34" fill="#c0c0c0"/>
<rect x="1062" y="635" width="1" height="24" fill="#c0c0c0"/>
<rect x="1070" y="635" width="1" height="15" fill="#c0c0c0"/>
<rect x="1078" y="635" width="1" height="10" fill="#c0c0c0"/>
<rect x="1086" y="635" width="1" height="8" fill="#c0c0c0"/>
<rect x="1094" y="635" width="1" height="3" fill="#c0c0c0"/>
<rect x="1102" y="635" width="1" height="4" fill="#c0c0c0"/>
<rect x="1110" y="635" width="1" height="6" fill="#c0c0c0"/>
<rect x="1118" y="635" width="1" height="10" fill="#c0c0c0"/>
<rect x="1126" y="635" width="1" height="18" fill="#c0c0c0"/>
<rect x="1134" y="635" width="1" height="21" fill="#c0c0c0"/>
<rect x="1142" y="635" width="1" height="13" fill="#c0c0c0"/>
<rect x="1150" y="635" width="1" height="11" fill="#c0c0c0"/>
<rect x="1158" y="635" width="1" height="10" fill="#c0c0c0"/>
<rect x="1166" y="635" width="1" height="9" fill="#c0c0c0"/>
<rect x="1174" y="635" width="1" height="8" fill="#c0c0c0"/>
<rect x="1182" y="635" width="1" height="2" fill="#c0c0c0"/>
<rect x="1190" y="631" width="1" height="5" fill="#c0c0c0"/>
<rect x="1198" y="635" width="1" height="2" fill="#c0c0c0"/>
<rect x="1206" y="634" width="1" height="2" fill="#c0c0c0"/>
<rect x="1214" y="628" width="1" height="8" fill="#c0c0c0"/>
<rect x="1222" y="626" width="1" height="10" fill="#c0c0c0"/>
<rect x="1230" y="622" width="1" height="14" fill="#c0c0c0"/>
<rect x="1238" y="616" width="1" height="20" fill="#c0c0c0"/>
<rect x="1246" y="601" width="1" height="35" fill="#c0c0c0"/>
<rect x="1254" y="593" width="1" height="43" fill="#c0c0c0"/>
<rect x="1262" y="586" width="1" height="50" fill="#c0c0c0"/>
<rect x="1270" y="580" width="1" height="56" fill="#c0c0c0"/>
<rect x="1278" y="579" width="1" height="57" fill="#c0c0c0"/>
<rect x="1286" y="583" width="1" height="53" fill="#c0c0c0"/>
<rect x="1294" y="592" width="1" height="44" fill="#c0c0c0"/>
<rect x="1302" y="602" width="1" height="34" fill="#c0c0c0"/>
<rect x="1310" y="615" width="1" height="21" fill="#c0c0c0"/>
<rect x="1318" y="626" width="1" height="10" fill="#c0c0c0"/>
<rect x="1326" y="635" width="1" height="1" fill="#c0c0c0"/>
<rect x="1334" y="635" width="1" height="13" fill="#c0c0c0"/>
<rect x="1342" y="635" width="1" height="16" fill="#c0c0c0"/>
<rect x="1350" y="635" width="1" height="25" fill="#c0c0c0"/>
<rect x="1358" y="635" width="1" height="28" fill="#c0c0c0"/>
<rect x="1366" y="635" width="1" height="31" fill="#c0c0c0"/>
<rect x="1374" y="635" width="1" height="31" fill="#c0c0c0"/>
<rect x="1382" y="635" width="1" height="25" fill="#c0c0c0"/>
<rect x="1390" y="635" width="1" height="18" fill="#c0c0c0"/>
<rect x="1398" y="635" width="1" height="10" fill="#c0c0c0"/>
<rect x="1406" y="635" width="1" height="4" fill="#c0c0c0"/>
<rect x="1414" y="635" width="1" height="3" fill="#c0c0c0"/>
<rect x="1422" y="632" width="1" height="4" fill="#c0c0c0"/>
<rect x="1430" y="619" width="1" height="17" fill="#c0c0c0"/>
<rect x="1438" y="604" width="1" height="32" fill="#c0c0c0"/>
<rect x="1446" y="587" width="1" height="49" fill="#c0c0c0"/>
<rect x="1454" y="574" width="1" height="62" fill="#c0c0c0"/>
<polyline points="2.5,672.5 10.0,675.5 22.5,681.8 32.5,693.0 46.2,710.5 62.5,734.2 75.0,748.0 86.2,756.0 95.0,759.2 105.0,759.2 115.0,755.5 127.5,748.0 140.0,735.5 152.5,723.0 165.0,709.2 175.0,699.2 187.5,687.2 200.0,678.0 212.5,670.5 225.0,665.0 237.5,658.0 250.0,651.2 262.5,643.5 275.0,634.2 287.5,623.8 300.0,615.0 312.5,608.0 322.5,604.8 332.5,604.2 342.5,604.8 352.5,608.5 362.5,614.2 375.0,622.5 387.5,632.2 400.0,642.5 412.5,652.5 422.5,661.8 425.2,664.2 434.0,670.5 444.0,678.0 456.5,684.2 469.0,689.2 486.5,696.8 499.0,699.8 511.5,701.2 524.0,704.2 536.5,707.2 549.0,709.2 559.0,710.5 571.5,708.5 584.0,707.2 594.0,704.2 606.5,699.2 619.0,693.0 631.5,688.0 644.0,683.8 654.0,681.0 664.0,678.5 674.0,678.8 684.0,680.0 694.0,680.0 704.0,678.0 719.0,676.0 734.0,675.5 749.0,673.0 764.0,668.5 774.0,666.2 786.5,665.0 799.0,663.8 814.0,663.5 824.0,665.5 836.5,670.5 846.5,675.0 851.8,677.5 860.5,680.5 870.5,684.2 878.0,685.5 888.0,683.5 898.0,680.5 910.5,676.0 923.0,673.0 935.5,669.8 948.0,667.5 955.5,668.0 965.5,669.8 978.0,671.2 990.5,673.0 998.0,674.8 1008.0,678.5 1015.5,680.5 1028.0,681.2 1043.0,680.5 1055.5,678.8 1068.0,673.0 1080.5,666.0 1093.0,658.0 1105.5,651.8 1115.5,648.5 1123.0,646.0 1135.5,645.5 1148.0,645.5 1160.5,645.5 1170.5,646.2 1183.0,646.2 1193.0,643.5 1205.5,640.5 1218.0,636.2 1230.5,633.0 1243.0,626.8 1253.0,621.0 1263.0,614.2 1271.0,608.5 1272.0,608.0 1279.5,600.5 1287.0,595.5 1297.0,592.5 1307.0,592.2 1317.0,593.5 1324.5,598.0 1334.5,606.8 1344.5,616.8 1354.5,628.0 1364.5,639.2 1374.5,648.0 1384.5,653.5 1394.5,656.8 1404.5,657.2 1414.5,655.5 1424.5,650.5 1434.5,642.5 1444.5,633.0 1454.0,623.0" fill="none" stroke="#ff0000" stroke-width="1" stroke-dasharray="3 3.6"/>
</g>
<rect x="0" y="784" width="1650" height="1" fill="#000"/>
<rect x="1649" y="784" width="1" height="144" fill="#000"/>
<rect x="0" y="927" width="1650" height="1" fill="#000"/>
<g shape-rendering="crispEdges">
<line x1="3" y1="814.5" x2="1649" y2="814.5" stroke="#c0c0c0" stroke-width="1" stroke-dasharray="3 3"/>
<line x1="3" y1="856.5" x2="1649" y2="856.5" stroke="#c0c0c0" stroke-width="1" stroke-dasharray="3 3"/>
<line x1="3" y1="905.5" x2="1649" y2="905.5" stroke="#c0c0c0" stroke-width="1" stroke-dasharray="3 3"/>
<polyline points="-1.5,881.8 6.5,889.2 14.5,889.2 22.5,890.5 30.5,892.2 38.5,889.2 46.5,890.5 54.5,894.2 62.5,894.2 70.5,894.2 78.5,881.2 86.5,879.2 94.5,879.2 102.5,870.5 110.5,869.2 118.5,864.5 126.5,864.2 134.5,858.0 142.5,862.2 150.5,863.5 158.5,870.0 166.5,859.2 174.5,848.5 182.5,855.5 190.5,863.5 198.5,860.5 206.5,862.2 214.5,865.5 222.5,853.0 230.5,851.0 238.5,847.5 246.5,841.8 254.5,840.5 262.5,839.2 270.5,834.5 278.5,844.2 286.5,849.2 294.5,843.5 302.5,842.5 310.5,848.5 318.5,846.8 326.5,862.2 334.5,858.2 342.5,863.0 350.5,867.5 358.5,866.2 366.5,868.5 374.5,862.5 382.5,875.0 390.5,878.5 398.5,873.5 406.5,873.5 414.5,872.2 422.5,883.0 430.5,876.8 438.5,872.2 446.5,874.2 454.5,875.5 462.5,875.5 470.5,875.5 478.5,886.0 486.5,888.5 494.5,883.5 502.5,873.5 510.5,873.5 518.5,880.0 526.5,881.5 534.5,880.5 542.5,882.2 550.5,885.2 558.5,885.2 566.5,870.0 574.5,866.5 582.5,867.5 590.5,863.5 598.5,865.2 606.5,867.5 614.5,861.0 622.5,877.2 630.5,878.5 638.5,867.5 646.5,864.2 654.5,860.5 662.5,855.8 670.5,884.2 678.5,867.5 686.5,864.2 694.5,860.0 702.5,858.0 710.5,856.5 718.5,859.2 726.5,868.2 734.5,868.2 742.5,862.5 750.5,865.5 758.5,852.2 766.5,858.0 774.5,860.5 782.5,860.5 790.5,863.5 798.5,866.2 806.5,867.5 814.5,879.2 822.5,875.0 830.5,873.2 838.5,873.2 846.5,874.2 854.5,857.2 862.5,868.0 870.5,862.5 878.5,860.5 886.5,854.8 894.5,854.8 902.5,863.0 910.5,867.5 918.5,866.5 926.5,864.2 934.5,858.2 942.5,864.2 950.5,871.2 958.5,871.2 966.5,864.2 974.5,870.2 982.5,871.2 990.5,872.2 998.5,876.2 1006.5,868.5 1014.5,867.2 1022.5,861.5 1030.5,859.2 1038.5,864.2 1046.5,869.2 1054.5,856.8 1062.5,848.5 1070.5,848.5 1078.5,851.0 1086.5,857.2 1094.5,848.5 1102.5,858.0 1110.5,862.2 1118.5,863.5 1126.5,870.5 1134.5,866.5 1142.5,850.5 1150.5,855.5 1158.5,859.5 1166.5,856.5 1174.5,856.2 1182.5,849.8 1190.5,846.5 1198.5,861.5 1206.5,854.8 1214.5,848.5 1222.5,851.2 1230.5,848.5 1238.5,845.5 1246.5,833.5 1254.5,840.0 1262.5,838.2 1270.5,838.2 1278.5,841.2 1286.5,850.0 1294.5,857.0 1302.5,860.5 1310.5,866.2 1318.5,867.5 1326.5,870.5 1334.5,872.2 1342.5,866.2 1350.5,871.2 1358.5,868.5 1366.5,867.5 1374.5,863.5 1382.5,855.2 1390.5,859.2 1398.5,849.2 1406.5,847.2 1414.5,852.2 1422.5,847.5 1430.5,836.2 1438.5,830.5 1446.5,827.5 1454.5,827.5" fill="none" stroke="#1e90ff" stroke-width="1"/>
</g>
<rect x="1650" y="30" width="2" height="1" fill="#000"/>
<text transform="translate(1655 33.9) scale(1 1.06)" font-size="9.2" fill="#000" text-anchor="start" font-weight="normal" stroke="#000" stroke-width="0.1">1.35750</text>
<rect x="1650" y="63" width="2" height="1" fill="#000"/>
<text transform="translate(1655 66.9) scale(1 1.06)" font-size="9.2" fill="#000" text-anchor="start" font-weight="normal" stroke="#000" stroke-width="0.1">1.35485</text>
<rect x="1650" y="96" width="2" height="1" fill="#000"/>
<text transform="translate(1655 100.9) scale(1 1.06)" font-size="9.2" fill="#000" text-anchor="start" font-weight="normal" stroke="#000" stroke-width="0.1">1.35220</text>
<rect x="1650" y="129" width="2" height="1" fill="#000"/>
<text transform="translate(1655 132.9) scale(1 1.06)" font-size="9.2" fill="#000" text-anchor="start" font-weight="normal" stroke="#000" stroke-width="0.1">1.34960</text>
<rect x="1650" y="162" width="2" height="1" fill="#000"/>
<text transform="translate(1655 165.9) scale(1 1.06)" font-size="9.2" fill="#000" text-anchor="start" font-weight="normal" stroke="#000" stroke-width="0.1">1.34695</text>
<rect x="1650" y="195" width="2" height="1" fill="#000"/>
<text transform="translate(1655 198.9) scale(1 1.06)" font-size="9.2" fill="#000" text-anchor="start" font-weight="normal" stroke="#000" stroke-width="0.1">1.34435</text>
<rect x="1650" y="228" width="2" height="1" fill="#000"/>
<text transform="translate(1655 231.9) scale(1 1.06)" font-size="9.2" fill="#000" text-anchor="start" font-weight="normal" stroke="#000" stroke-width="0.1">1.34170</text>
<rect x="1650" y="261" width="2" height="1" fill="#000"/>
<text transform="translate(1655 264.9) scale(1 1.06)" font-size="9.2" fill="#000" text-anchor="start" font-weight="normal" stroke="#000" stroke-width="0.1">1.33905</text>
<rect x="1650" y="294" width="2" height="1" fill="#000"/>
<text transform="translate(1655 297.9) scale(1 1.06)" font-size="9.2" fill="#000" text-anchor="start" font-weight="normal" stroke="#000" stroke-width="0.1">1.33645</text>
<rect x="1650" y="327" width="2" height="1" fill="#000"/>
<text transform="translate(1655 330.9) scale(1 1.06)" font-size="9.2" fill="#000" text-anchor="start" font-weight="normal" stroke="#000" stroke-width="0.1">1.33380</text>
<rect x="1650" y="360" width="2" height="1" fill="#000"/>
<text transform="translate(1655 363.9) scale(1 1.06)" font-size="9.2" fill="#000" text-anchor="start" font-weight="normal" stroke="#000" stroke-width="0.1">1.33115</text>
<rect x="1650" y="393" width="2" height="1" fill="#000"/>
<text transform="translate(1655 396.9) scale(1 1.06)" font-size="9.2" fill="#000" text-anchor="start" font-weight="normal" stroke="#000" stroke-width="0.1">1.32855</text>
<rect x="1650" y="426" width="2" height="1" fill="#000"/>
<text transform="translate(1655 429.9) scale(1 1.06)" font-size="9.2" fill="#000" text-anchor="start" font-weight="normal" stroke="#000" stroke-width="0.1">1.32590</text>
<rect x="1650" y="458" width="2" height="1" fill="#000"/>
<text transform="translate(1655 462.9) scale(1 1.06)" font-size="9.2" fill="#000" text-anchor="start" font-weight="normal" stroke="#000" stroke-width="0.1">1.32330</text>
<rect x="1650" y="492" width="2" height="1" fill="#000"/>
<text transform="translate(1655 495.9) scale(1 1.06)" font-size="9.2" fill="#000" text-anchor="start" font-weight="normal" stroke="#000" stroke-width="0.1">1.32065</text>
<rect x="1650" y="525" width="2" height="1" fill="#000"/>
<text transform="translate(1655 528.9) scale(1 1.06)" font-size="9.2" fill="#000" text-anchor="start" font-weight="normal" stroke="#000" stroke-width="0.1">1.31800</text>
<rect x="1650" y="557" width="2" height="1" fill="#000"/>
<text transform="translate(1655 561.9) scale(1 1.06)" font-size="9.2" fill="#000" text-anchor="start" font-weight="normal" stroke="#000" stroke-width="0.1">1.31540</text>
<rect x="1651" y="242" width="41" height="11" fill="#ff4500"/>
<text transform="translate(1655.6 250.9) scale(1 1.06)" font-size="9.2" fill="#fff" text-anchor="start" font-weight="normal" stroke="#fff" stroke-width="0.1">1.34011</text>
<rect x="1651" y="268" width="41" height="11" fill="#ff0000"/>
<text transform="translate(1655.6 276.9) scale(1 1.06)" font-size="9.2" fill="#fff" text-anchor="start" font-weight="normal" stroke="#fff" stroke-width="0.1">1.33804</text>
<rect x="1651" y="296" width="41" height="11" fill="#000"/>
<text transform="translate(1655.6 304.9) scale(1 1.06)" font-size="9.2" fill="#fff" text-anchor="start" font-weight="normal" stroke="#fff" stroke-width="0.1">1.33586</text>
<rect x="1651" y="314" width="41" height="11" fill="#32cd32"/>
<text transform="translate(1655.6 322.9) scale(1 1.06)" font-size="9.2" fill="#fff" text-anchor="start" font-weight="normal" stroke="#fff" stroke-width="0.1">1.33438</text>
<rect x="1651" y="337" width="41" height="11" fill="#0000ff"/>
<text transform="translate(1655.6 345.9) scale(1 1.06)" font-size="9.2" fill="#fff" text-anchor="start" font-weight="normal" stroke="#fff" stroke-width="0.1">1.33255</text>
<rect x="1651" y="364" width="41" height="11" fill="#0000ff"/>
<text transform="translate(1655.6 372.9) scale(1 1.06)" font-size="9.2" fill="#fff" text-anchor="start" font-weight="normal" stroke="#fff" stroke-width="0.1">1.33040</text>
<rect x="1650" y="563" width="2" height="1" fill="#000"/>
<text transform="translate(1653 574) scale(1 1.06)" font-size="9.2" fill="#000" text-anchor="start" font-weight="normal" stroke="#000" stroke-width="0.1">0.00273</text>
<rect x="1650" y="635" width="2" height="1" fill="#000"/>
<text transform="translate(1653 639) scale(1 1.06)" font-size="9.2" fill="#000" text-anchor="start" font-weight="normal" stroke="#000" stroke-width="0.1">0.00</text>
<rect x="1650" y="782" width="2" height="1" fill="#000"/>
<text transform="translate(1653 779) scale(1 1.06)" font-size="9.2" fill="#000" text-anchor="start" font-weight="normal" stroke="#000" stroke-width="0.1">-0.005687</text>
<rect x="1650" y="784" width="2" height="1" fill="#000"/>
<text transform="translate(1653 795) scale(1 1.06)" font-size="9.2" fill="#000" text-anchor="start" font-weight="normal" stroke="#000" stroke-width="0.1">100</text>
<text transform="translate(1652 818) scale(1 1.06)" font-size="9.2" fill="#000" text-anchor="start" font-weight="normal" stroke="#000" stroke-width="0.1">80</text>
<text transform="translate(1652 860) scale(1 1.06)" font-size="9.2" fill="#000" text-anchor="start" font-weight="normal" stroke="#000" stroke-width="0.1">50</text>
<text transform="translate(1652 909.2) scale(1 1.06)" font-size="9.2" fill="#000" text-anchor="start" font-weight="normal" stroke="#000" stroke-width="0.1">15</text>
<text transform="translate(1653 924) scale(1 1.06)" font-size="9.2" fill="#000" text-anchor="start" font-weight="normal" stroke="#000" stroke-width="0.1">0</text>
<rect x="1650" y="926" width="1" height="1" fill="#000"/>
<text transform="translate(2 940.2) scale(1 1.06)" font-size="9.4" fill="#000" text-anchor="start" font-weight="normal" stroke="#000" stroke-width="0.1">Nov 2021</text>
<rect x="54" y="928" width="1" height="3" fill="#000"/>
<text transform="translate(53.2 940.2) scale(1 1.06)" font-size="9.4" fill="#000" text-anchor="start" font-weight="normal" stroke="#000" stroke-width="0.1">11 Nov 16:00</text>
<rect x="118" y="928" width="1" height="3" fill="#000"/>
<text transform="translate(117.2 940.2) scale(1 1.06)" font-size="9.4" fill="#000" text-anchor="start" font-weight="normal" stroke="#000" stroke-width="0.1">15 Nov 00:00</text>
<rect x="182" y="928" width="1" height="3" fill="#000"/>
<text transform="translate(181.2 940.2) scale(1 1.06)" font-size="9.4" fill="#000" text-anchor="start" font-weight="normal" stroke="#000" stroke-width="0.1">16 Nov 08:00</text>
<rect x="246" y="928" width="1" height="3" fill="#000"/>
<text transform="translate(245.2 940.2) scale(1 1.06)" font-size="9.4" fill="#000" text-anchor="start" font-weight="normal" stroke="#000" stroke-width="0.1">17 Nov 16:00</text>
<rect x="310" y="928" width="1" height="3" fill="#000"/>
<text transform="translate(309.2 940.2) scale(1 1.06)" font-size="9.4" fill="#000" text-anchor="start" font-weight="normal" stroke="#000" stroke-width="0.1">19 Nov 00:00</text>
<rect x="374" y="928" width="1" height="3" fill="#000"/>
<text transform="translate(373.2 940.2) scale(1 1.06)" font-size="9.4" fill="#000" text-anchor="start" font-weight="normal" stroke="#000" stroke-width="0.1">22 Nov 08:00</text>
<rect x="438" y="928" width="1" height="3" fill="#000"/>
<text transform="translate(437.2 940.2) scale(1 1.06)" font-size="9.4" fill="#000" text-anchor="start" font-weight="normal" stroke="#000" stroke-width="0.1">23 Nov 16:00</text>
<rect x="502" y="928" width="1" height="3" fill="#000"/>
<text transform="translate(501.2 940.2) scale(1 1.06)" font-size="9.4" fill="#000" text-anchor="start" font-weight="normal" stroke="#000" stroke-width="0.1">25 Nov 00:00</text>
<rect x="566" y="928" width="1" height="3" fill="#000"/>
<text transform="translate(565.2 940.2) scale(1 1.06)" font-size="9.4" fill="#000" text-anchor="start" font-weight="normal" stroke="#000" stroke-width="0.1">26 Nov 08:00</text>
<rect x="630" y="928" width="1" height="3" fill="#000"/>
<text transform="translate(629.2 940.2) scale(1 1.06)" font-size="9.4" fill="#000" text-anchor="start" font-weight="normal" stroke="#000" stroke-width="0.1">29 Nov 16:00</text>
<rect x="694" y="928" width="1" height="3" fill="#000"/>
<text transform="translate(693.2 940.2) scale(1 1.06)" font-size="9.4" fill="#000" text-anchor="start" font-weight="normal" stroke="#000" stroke-width="0.1">1 Dec 00:00</text>
<rect x="758" y="928" width="1" height="3" fill="#000"/>
<text transform="translate(757.2 940.2) scale(1 1.06)" font-size="9.4" fill="#000" text-anchor="start" font-weight="normal" stroke="#000" stroke-width="0.1">2 Dec 08:00</text>
<rect x="822" y="928" width="1" height="3" fill="#000"/>
<text transform="translate(821.2 940.2) scale(1 1.06)" font-size="9.4" fill="#000" text-anchor="start" font-weight="normal" stroke="#000" stroke-width="0.1">3 Dec 16:00</text>
<rect x="886" y="928" width="1" height="3" fill="#000"/>
<text transform="translate(885.2 940.2) scale(1 1.06)" font-size="9.4" fill="#000" text-anchor="start" font-weight="normal" stroke="#000" stroke-width="0.1">7 Dec 00:00</text>
<rect x="950" y="928" width="1" height="3" fill="#000"/>
<text transform="translate(949.2 940.2) scale(1 1.06)" font-size="9.4" fill="#000" text-anchor="start" font-weight="normal" stroke="#000" stroke-width="0.1">8 Dec 08:00</text>
<rect x="1014" y="928" width="1" height="3" fill="#000"/>
<text transform="translate(1013.2 940.2) scale(1 1.06)" font-size="9.4" fill="#000" text-anchor="start" font-weight="normal" stroke="#000" stroke-width="0.1">9 Dec 16:00</text>
<rect x="1078" y="928" width="1" height="3" fill="#000"/>
<text transform="translate(1077.2 940.2) scale(1 1.06)" font-size="9.4" fill="#000" text-anchor="start" font-weight="normal" stroke="#000" stroke-width="0.1">13 Dec 00:00</text>
<rect x="1142" y="928" width="1" height="3" fill="#000"/>
<text transform="translate(1141.2 940.2) scale(1 1.06)" font-size="9.4" fill="#000" text-anchor="start" font-weight="normal" stroke="#000" stroke-width="0.1">14 Dec 08:00</text>
<rect x="1206" y="928" width="1" height="3" fill="#000"/>
<text transform="translate(1205.2 940.2) scale(1 1.06)" font-size="9.4" fill="#000" text-anchor="start" font-weight="normal" stroke="#000" stroke-width="0.1">15 Dec 16:00</text>
<rect x="1270" y="928" width="1" height="3" fill="#000"/>
<text transform="translate(1269.2 940.2) scale(1 1.06)" font-size="9.4" fill="#000" text-anchor="start" font-weight="normal" stroke="#000" stroke-width="0.1">17 Dec 00:00</text>
<rect x="1334" y="928" width="1" height="3" fill="#000"/>
<text transform="translate(1333.2 940.2) scale(1 1.06)" font-size="9.4" fill="#000" text-anchor="start" font-weight="normal" stroke="#000" stroke-width="0.1">20 Dec 08:00</text>
<rect x="1398" y="928" width="1" height="3" fill="#000"/>
<text transform="translate(1397.2 940.2) scale(1 1.06)" font-size="9.4" fill="#000" text-anchor="start" font-weight="normal" stroke="#000" stroke-width="0.1">21 Dec 16:00</text>
<text transform="translate(5 37.6) scale(1 1.06)" font-size="9.35" fill="#000" text-anchor="start" font-weight="normal" stroke="#000" stroke-width="0.1">GBPUSD-,H4&#160;&#160;1.33579 1.33620 1.33549 1.33586</text>
<text transform="translate(-3.8 576) scale(1 1.06)" font-size="9.22" fill="#000" text-anchor="start" font-weight="normal" stroke="#000" stroke-width="0.1">MACD(12,26,9) 0.002348 0.000506</text>
<text transform="translate(-6 797) scale(1 1.06)" font-size="9.3" fill="#000" text-anchor="start" font-weight="normal" stroke="#000" stroke-width="0.1">RSI(14) 70.4197</text>
<polygon points="1460,27 1471,27 1465.5,32" fill="#c0c0c0"/>
<rect x="1695" y="24" width="1" height="917" fill="#e0e0e0"/>
<defs>
<linearGradient id="gr1" x1="0" y1="0" x2="0" y2="1"><stop offset="0" stop-color="#f65454"/><stop offset="1" stop-color="#d62626"/></linearGradient>
<linearGradient id="gr2" x1="0" y1="0" x2="0" y2="1"><stop offset="0" stop-color="#d92a2a"/><stop offset="1" stop-color="#ac0303"/></linearGradient>
<linearGradient id="gb" x1="0" y1="0" x2="0" y2="1"><stop offset="0" stop-color="#f4f4f4"/><stop offset="0.5" stop-color="#dcdcdc"/><stop offset="1" stop-color="#cfcfcf"/></linearGradient>
<pattern id="chk" width="2" height="2" patternUnits="userSpaceOnUse"><rect width="2" height="2" fill="#f0f0f0"/><rect width="1" height="1" fill="#fff"/><rect x="1" y="1" width="1" height="1" fill="#fff"/></pattern>
</defs>
<rect x="0" y="46" width="44.6" height="25" fill="url(#gr1)"/>
<rect x="160" y="46" width="52" height="25" fill="url(#gr1)"/>
<rect x="0" y="70" width="102" height="33" fill="url(#gr2)"/>
<rect x="104" y="70" width="108" height="33" fill="url(#gr2)"/>
<rect x="0" y="69.5" width="41" height="1" fill="#f08080"/>
<rect x="164" y="69.5" width="44" height="1" fill="#f08080"/>
<text x="4.4" y="61.6" font-size="11.6" fill="#fff" text-anchor="start" font-weight="normal" textLength="27" lengthAdjust="spacingAndGlyphs">SELL</text>
<text x="173" y="61.6" font-size="11.6" fill="#fff" text-anchor="start" font-weight="normal" textLength="24" lengthAdjust="spacingAndGlyphs">BUY</text>
<rect x="44" y="46" width="116" height="24" fill="#fff"/>
<rect x="47.5" y="46.5" width="110" height="21" fill="#fff" stroke="#a8a8a8"/>
<rect x="49" y="48" width="19" height="18" fill="url(#gb)"/>
<rect x="138" y="48" width="19" height="18" fill="url(#gb)"/>
<rect x="68" y="47" width="1" height="20" fill="#b8b8b8"/>
<rect x="137" y="47" width="1" height="20" fill="#b8b8b8"/>
<polygon points="55,55 61,55 58,58.5" fill="#4a5fc0"/><polygon points="144,58 150,58 147,54.5" fill="#4a5fc0"/>
<text x="108.6" y="60.7" font-size="11.6" fill="#000" text-anchor="start" font-weight="normal" textLength="24.6" lengthAdjust="spacingAndGlyphs">1.00</text>
<text x="12.8" y="97.9" font-size="11.7" fill="#fff" text-anchor="start" font-weight="bold" textLength="24" lengthAdjust="spacingAndGlyphs">1.33</text>
<text x="40.4" y="97.9" font-size="33.6" fill="#fff" text-anchor="start" font-weight="normal" textLength="36.4" lengthAdjust="spacingAndGlyphs">58</text>
<text x="79.8" y="82.3" font-size="12.7" fill="#fff" text-anchor="start" font-weight="bold" textLength="7.4" lengthAdjust="spacingAndGlyphs">6</text>
<text x="122.4" y="97.9" font-size="11.7" fill="#fff" text-anchor="start" font-weight="bold" textLength="24.6" lengthAdjust="spacingAndGlyphs">1.33</text>
<text x="149.8" y="97.9" font-size="33.6" fill="#fff" text-anchor="start" font-weight="normal" textLength="37.8" lengthAdjust="spacingAndGlyphs">61</text>
<text x="190.1" y="82.3" font-size="12.7" fill="#fff" text-anchor="start" font-weight="bold" textLength="7.6" lengthAdjust="spacingAndGlyphs">6</text>
<rect x="0" y="0" width="1696" height="22" fill="#f0f0f0"/>
<rect x="0" y="22" width="1696" height="1" fill="#b0b0b0"/>
<rect x="0" y="23" width="1696" height="1" fill="#6a6a6a"/>
<polygon points="0,15 3,18 1,20 0,19" fill="#d9a520"/>
<rect x="10" y="0" width="1" height="20" fill="#a0a0a0"/>
<rect x="11" y="0" width="1" height="20" fill="#fff"/>
<g><path d="M20.5 2.5H28.5L31.5 5.5V15.5H20.5Z" fill="#fdfdfd" stroke="#787878"/><path d="M28.5 2.5V5.5H31.5" fill="none" stroke="#909090" stroke-width="0.8"/><path d="M22.5 5H25.5" stroke="#909090" stroke-width="1.4"/><path d="M22.5 8.5H29M22.5 10.5H28M22.5 12.5H25" stroke="#a0a0a0" stroke-width="0.9"/><path d="M28.2 8.8H31.8V12.4H35.6V15.8H31.8V19.6H28.2V15.8H24.4V12.4H28.2Z" fill="#2fd03a" stroke="#128a18" stroke-width="0.9"/><path d="M29 9.6H31V13.2H34.8" stroke="#8af08a" stroke-width="0.8" fill="none"/></g>
<text x="39" y="13.6" font-size="12" fill="#000" text-anchor="start" font-weight="normal">新订单</text>
<g><path d="M87.3 11.4L93.8 3L103 10.4L96.6 18Z" fill="#e9b42c" stroke="#a8720c" stroke-width="0.9"/><path d="M89.5 11L94 5L100.5 10L96 15.5Z" fill="#f6d860" opacity="0.8"/><path d="M87.3 11.4L88 13.6L96.4 19.6L96.6 18M96.4 19.6L103 11.8L103 10.4" fill="#f8e49a" stroke="#a8720c" stroke-width="0.8"/></g>
<g><path d="M117.5 3L120.5 2.2L128 3V12.5H117.5Z" fill="#2f8fe8" stroke="#1c62b8" stroke-width="0.8"/><path d="M117.5 3L120.5 4V12.5H117.5Z" fill="#58b8f8"/><rect x="121.5" y="5.2" width="5.5" height="2.6" fill="#1f58b0"/><rect x="122.5" y="5.9" width="3.5" height="1" fill="#cfe4fb"/><path d="M117.6 17.6a2.9 2.9 0 0 1 -0.4 -5.7a3.4 3.4 0 0 1 5.6 -1.5a3.3 3.3 0 0 1 5.3 0.9a2.6 2.6 0 0 1 2 2.6a2.4 2.4 0 0 1 -1.3 3.7Z" fill="#eef2f9" stroke="#7b94c2" stroke-width="0.9"/><path d="M117 16.4H129.5" stroke="#b8c6de" stroke-width="1.2"/></g>
<g fill="none"><circle cx="151" cy="10" r="7.6" stroke="#a9c3e3" stroke-width="1.1"/><path d="M151 2.4a7.6 7.6 0 0 1 0 15.2" stroke="#9dc79a" stroke-width="1.2"/><circle cx="151" cy="10" r="5.3" stroke="#7fa3dc" stroke-width="1.1"/><path d="M151 4.7a5.3 5.3 0 0 1 0 10.6" stroke="#86bd86" stroke-width="1.1"/><circle cx="151" cy="10" r="3.1" stroke="#4d7fd2" stroke-width="1.1"/><circle cx="151" cy="9.6" r="1.7" fill="#2a5fc2"/><path d="M151.3 10.5V17.8" stroke="#2fa52f" stroke-width="1.6"/><path d="M151.6 17.6L157.8 13.6A7.6 7.6 0 0 1 151.6 17.6Z" fill="#58b558" opacity="0.85"/></g>
<g><path d="M171.3 9.6L178.6 17.8L186.4 8.6Z" fill="#f4d03c" stroke="#c9960f" stroke-width="0.7"/><path d="M173 10L178.4 16L181 12Z" fill="#fbe98a"/><ellipse cx="178" cy="6.6" rx="7.8" ry="2.9" fill="#5aa4dc" stroke="#3277b8" stroke-width="0.8"/><path d="M174 6.3C174 3.2 175.4 2 178 2C180.6 2 182 3.2 182 6.3C180 7.4 176 7.4 174 6.3Z" fill="#6cb4e6" stroke="#3277b8" stroke-width="0.8"/><circle cx="182.6" cy="13.5" r="4.2" fill="#e2281c"/><rect x="181" y="11.9" width="3.2" height="3.2" fill="#fff"/></g>
<text x="191" y="13.6" font-size="12" fill="#000" text-anchor="start" font-weight="normal">自动交易</text>
<rect x="246" y="0" width="1" height="22" fill="#a0a0a0"/>
<rect x="247" y="0" width="1" height="22" fill="#fff"/>
<rect x="250" y="1" width="3" height="1" fill="#b0b0b0"/>
<rect x="250" y="3" width="3" height="1" fill="#b0b0b0"/>
<rect x="250" y="5" width="3" height="1" fill="#b0b0b0"/>
<rect x="250" y="7" width="3" height="1" fill="#b0b0b0"/>
<rect x="250" y="9" width="3" height="1" fill="#b0b0b0"/>
<rect x="250" y="11" width="3" height="1" fill="#b0b0b0"/>
<rect x="250" y="13" width="3" height="1" fill="#b0b0b0"/>
<rect x="250" y="15" width="3" height="1" fill="#b0b0b0"/>
<rect x="250" y="17" width="3" height="1" fill="#b0b0b0"/>
<rect x="250" y="19" width="3" height="1" fill="#b0b0b0"/>
<g stroke="#505050" stroke-width="1.1" fill="none"><path d="M264.5 4.5V17.5M262.5 15.5H275.5"/><path d="M263 6L264.5 4L266 6M274 14L276 15.5L274 17" stroke-width="1"/></g>
<path d="M271.5 6V13.5M271.5 6.5H274.5M268.5 13H271.5" stroke="#18a018" stroke-width="1.6" fill="none"/>
<rect x="284" y="0" width="1" height="20" fill="#a0a0a0"/>
<rect x="285" y="0" width="1" height="20" fill="#fff"/>
<rect x="286" y="0" width="24" height="20" fill="url(#chk)"/>
<g stroke="#505050" stroke-width="1.1" fill="none"><path d="M292.5 4.5V17.5M290.5 15.5H303.5"/><path d="M291 6L292.5 4L294 6M302 14L304 15.5L302 17" stroke-width="1"/></g>
<path d="M298.5 2.5V14" stroke="#108010"/><rect x="296.5" y="4.5" width="4" height="7" fill="#20c020" stroke="#108010"/>
<g stroke="#505050" stroke-width="1.1" fill="none"><path d="M320.5 4.5V17.5M318.5 15.5H331.5"/><path d="M319 6L320.5 4L322 6M330 14L332 15.5L330 17" stroke-width="1"/></g>
<path d="M319.5 13C322 8 325 6 327 7.5C329 9 330 10.5 331 11.5" stroke="#18a018" stroke-width="1.4" fill="none"/>
<rect x="341" y="0" width="1" height="20" fill="#a0a0a0"/>
<rect x="342" y="0" width="1" height="20" fill="#fff"/>
<g><path d="M359.5 11.5L364.5 16.5" stroke="#c8a020" stroke-width="3" stroke-linecap="round"/><circle cx="356.5" cy="8" r="5.2" fill="#d8ecfc" stroke="#4888c8" stroke-width="1.4"/><path d="M353.5 8H359.5M356.5 5V11" stroke="#2868b0" stroke-width="1.6"/></g>
<g><path d="M387.5 11.5L392.5 16.5" stroke="#c8a020" stroke-width="3" stroke-linecap="round"/><circle cx="384.5" cy="8" r="5.2" fill="#d8ecfc" stroke="#4888c8" stroke-width="1.4"/><path d="M381.5 8H387.5" stroke="#2868b0" stroke-width="1.6"/></g>
<rect x="406" y="2" width="8" height="8" fill="#48a018"/><rect x="407.5" y="5" width="5" height="1.5" fill="#e8f4e0"/><rect x="407.5" y="7.5" width="5" height="1.5" fill="#e8f4e0"/>
<rect x="414.5" y="2" width="8" height="8" fill="#2858d0"/><rect x="416.0" y="5" width="5" height="1.5" fill="#e8f4e0"/><rect x="416.0" y="7.5" width="5" height="1.5" fill="#e8f4e0"/>
<rect x="406" y="10.5" width="8" height="8" fill="#2858d0"/><rect x="407.5" y="13.5" width="5" height="1.5" fill="#e8f4e0"/><rect x="407.5" y="16.0" width="5" height="1.5" fill="#e8f4e0"/>
<rect x="414.5" y="10.5" width="8" height="8" fill="#48a018"/><rect x="416.0" y="13.5" width="5" height="1.5" fill="#e8f4e0"/><rect x="416.0" y="16.0" width="5" height="1.5" fill="#e8f4e0"/>
<rect x="431" y="0" width="1" height="20" fill="#a0a0a0"/>
<rect x="432" y="0" width="1" height="20" fill="#fff"/>
<rect x="436" y="0" width="25" height="20" fill="url(#chk)"/>
<g stroke="#505050" stroke-width="1.1" fill="none"><path d="M444.5 4.5V17.5M442.5 15.5H455.5"/><path d="M443 6L444.5 4L446 6M454 14L456 15.5L454 17" stroke-width="1"/></g>
<polygon points="449,6 449,13 453.5,9.5" fill="#20b020"/>
<rect x="463" y="0" width="1" height="20" fill="#a0a0a0"/>
<rect x="464" y="0" width="1" height="20" fill="#fff"/>
<rect x="466" y="0" width="24" height="20" fill="url(#chk)"/>
<g stroke="#505050" stroke-width="1.1" fill="none"><path d="M472.5 4.5V17.5M470.5 15.5H483.5"/><path d="M471 6L472.5 4L474 6M482 14L484 15.5L482 17" stroke-width="1"/></g>
<path d="M478.5 4V14" stroke="#2060c0" stroke-width="1.4"/><path d="M484 9.5H480M481.5 7.5L479.5 9.5L481.5 11.5" stroke="#e04010" stroke-width="1.2" fill="none"/>
<rect x="493" y="0" width="1" height="20" fill="#a0a0a0"/>
<rect x="494" y="0" width="1" height="20" fill="#fff"/>
<g><path d="M504.5 3.5H511L514 6.5V15.5H504.5Z" fill="#fff" stroke="#808080"/><path d="M507 6.5V12.5M506 7.5H508M507.5 5.5" stroke="#606060" stroke-width="0.8"/><path d="M511 8.5H514.5V12H518.5V15.5H514.5V19.5H511V15.5H507V12H511Z" fill="#18c018" stroke="#0a7a0a" stroke-width="0.8"/></g>
<polygon points="524,9 530,9 527,12.5" fill="#000"/>
<g><circle cx="549" cy="10" r="7" fill="#f8fcff" stroke="#1860c8" stroke-width="2.2"/><path d="M549 5.5V10.5H552.5" stroke="#505050" stroke-width="1.2" fill="none"/></g>
<polygon points="563,9 569,9 566,12.5" fill="#000"/>
<g><rect x="580.5" y="3.5" width="15" height="13" fill="#fff" stroke="#3878d0"/><rect x="581" y="4" width="14" height="2.5" fill="#5898e8"/><path d="M582 10L585 9L587 10L590 8L593 8.5" stroke="#b03010" stroke-width="1.2" fill="none"/><path d="M582 14.5L585 13L587 14.5L590 12.5L593 14" stroke="#209020" stroke-width="1.2" fill="none"/></g>
<polygon points="603,9 609,9 606,12.5" fill="#000"/>
<rect x="614" y="0" width="1" height="22" fill="#a0a0a0"/>
<rect x="615" y="0" width="1" height="22" fill="#fff"/>
<rect x="618" y="1" width="3" height="1" fill="#b0b0b0"/>
<rect x="618" y="3" width="3" height="1" fill="#b0b0b0"/>
<rect x="618" y="5" width="3" height="1" fill="#b0b0b0"/>
<rect x="618" y="7" width="3" height="1" fill="#b0b0b0"/>
<rect x="618" y="9" width="3" height="1" fill="#b0b0b0"/>
<rect x="618" y="11" width="3" height="1" fill="#b0b0b0"/>
<rect x="618" y="13" width="3" height="1" fill="#b0b0b0"/>
<rect x="618" y="15" width="3" height="1" fill="#b0b0b0"/>
<rect x="618" y="17" width="3" height="1" fill="#b0b0b0"/>
<rect x="618" y="19" width="3" height="1" fill="#b0b0b0"/>
<rect x="624" y="0" width="25" height="20" fill="url(#chk)"/>
<path d="M631 3V15L634 12.2L636.3 17L638.2 16L636 11.5L640 11.5Z" fill="#404040"/>
<path d="M664.5 3V18M657 10.5H672" stroke="#404040" stroke-width="1"/>
<rect x="681" y="0" width="1" height="20" fill="#a0a0a0"/>
<rect x="682" y="0" width="1" height="20" fill="#fff"/>
<path d="M698.5 4V17" stroke="#484848" stroke-width="1"/><path d="M721 10.5H733" stroke="#484848" stroke-width="1"/><path d="M749 17L761 5" stroke="#484848" stroke-width="1.1"/>
<g stroke="#404040" stroke-width="1" fill="none"><path d="M775 12L787 3M777 16L789 7M779 6.5L778 15.5M783 4.5L782 12.5M787 2L786 10"/></g>
<text x="786" y="18.5" font-size="6.5" fill="#303030" text-anchor="start" font-weight="bold">E</text>
<path d="M804 3.5H817" stroke="#404040" stroke-dasharray="1 1"/>
<path d="M804 6.5H817" stroke="#404040" stroke-dasharray="1 1"/>
<path d="M804 10.5H817" stroke="#404040" stroke-dasharray="1 1"/>
<path d="M804 14.5H817" stroke="#404040" stroke-dasharray="1 1"/>
<text x="814" y="19" font-size="6.5" fill="#303030" text-anchor="start" font-weight="bold">F</text>
<text x="834.5" y="15" font-size="12.5" fill="#404040" text-anchor="start" font-weight="normal">A</text>
<rect x="860.5" y="4.5" width="12" height="12" fill="none" stroke="#505050" stroke-dasharray="1 1" shape-rendering="crispEdges"/>
<text x="862.8" y="15.2" font-size="11.2" fill="#404040" text-anchor="start" font-weight="bold">T</text>
<g fill="#404040"><polygon points="891.5,3.5 895.3,7 891.5,9.5 887.7,7"/><polygon points="898.5,11 902.3,13.8 898.5,17.3 894.7,13.8"/><path d="M889.8 10.2L892.6 13.2L896.6 7.8" stroke="#404040" stroke-width="1.3" fill="none"/></g>
<polygon points="909,9 915,9 912,12.5" fill="#000"/>
<rect x="920" y="0" width="1" height="22" fill="#a0a0a0"/>
<rect x="921" y="0" width="1" height="22" fill="#fff"/>
<rect x="924" y="1" width="3" height="1" fill="#b0b0b0"/>
<rect x="924" y="3" width="3" height="1" fill="#b0b0b0"/>
<rect x="924" y="5" width="3" height="1" fill="#b0b0b0"/>
<rect x="924" y="7" width="3" height="1" fill="#b0b0b0"/>
<rect x="924" y="9" width="3" height="1" fill="#b0b0b0"/>
<rect x="924" y="11" width="3" height="1" fill="#b0b0b0"/>
<rect x="924" y="13" width="3" height="1" fill="#b0b0b0"/>
<rect x="924" y="15" width="3" height="1" fill="#b0b0b0"/>
<rect x="924" y="17" width="3" height="1" fill="#b0b0b0"/>
<rect x="924" y="19" width="3" height="1" fill="#b0b0b0"/>
<text x="935.2" y="13.6" font-size="9.6" fill="#404040" text-anchor="start" font-weight="normal">M1</text>
<text x="963.2" y="13.6" font-size="9.6" fill="#404040" text-anchor="start" font-weight="normal">M5</text>
<text x="989.2" y="13.6" font-size="9.6" fill="#404040" text-anchor="start" font-weight="normal">M15</text>
<text x="1017.2" y="13.6" font-size="9.6" fill="#404040" text-anchor="start" font-weight="normal">M30</text>
<text x="1048.6" y="13.6" font-size="9.6" fill="#404040" text-anchor="start" font-weight="normal">H1</text>
<rect x="1071" y="0" width="25" height="20" fill="url(#chk)"/>
<text x="1076" y="13.6" font-size="9.6" fill="#404040" text-anchor="start" font-weight="normal">H4</text>
<text x="1104.5" y="13.6" font-size="9.6" fill="#404040" text-anchor="start" font-weight="normal">D1</text>
<text x="1132.4" y="13.6" font-size="9.6" fill="#404040" text-anchor="start" font-weight="normal">W1</text>
<text x="1159" y="13.6" font-size="9.6" fill="#404040" text-anchor="start" font-weight="normal">MN</text>
<rect x="1070" y="0" width="1" height="20" fill="#a0a0a0"/>
<rect x="1181" y="0" width="1" height="22" fill="#a0a0a0"/>
<rect x="1182" y="0" width="1" height="22" fill="#fff"/>
<g><path d="M1644 14L1649 9" stroke="#2860d0" stroke-width="2.6" stroke-linecap="round"/><circle cx="1651.5" cy="6.5" r="4" fill="#f4f8ff" stroke="#2860d0" stroke-width="1.6"/></g>
<g><path d="M1669 11a6 4.5 0 1 1 5 4.5L1671.5 18.5L1672 15.5A6 4.5 0 0 1 1669 11Z" fill="#f0f0f4" stroke="#b0b0b8" stroke-width="0.8"/><circle cx="1682" cy="7.5" r="8" fill="#e03418"/></g>
<text x="1682" y="12.5" font-size="13" fill="#fff" text-anchor="middle" font-weight="normal">1</text>
</svg>
</body></html>
